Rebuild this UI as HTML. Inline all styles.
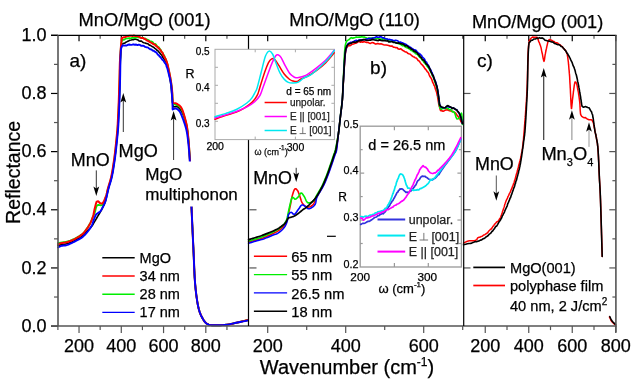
<!DOCTYPE html>
<html><head><meta charset="utf-8"><style>
html,body{margin:0;padding:0;background:#fff;width:635px;height:384px;overflow:hidden}
svg{display:block;font-family:"Liberation Sans",sans-serif;will-change:transform}
</style></head><body>
<svg width="635" height="384" viewBox="0 0 635 384" font-family="Liberation Sans, sans-serif"><rect x="0" y="0" width="635" height="384" fill="#fff"/>
<line x1="51.00" y1="326.10" x2="58.00" y2="326.10" stroke="#000" stroke-width="1.20"/>
<line x1="54.00" y1="297.02" x2="58.00" y2="297.02" stroke="#555" stroke-width="1.20"/>
<line x1="51.00" y1="267.94" x2="58.00" y2="267.94" stroke="#000" stroke-width="1.20"/>
<line x1="54.00" y1="238.86" x2="58.00" y2="238.86" stroke="#555" stroke-width="1.20"/>
<line x1="51.00" y1="209.78" x2="58.00" y2="209.78" stroke="#000" stroke-width="1.20"/>
<line x1="54.00" y1="180.70" x2="58.00" y2="180.70" stroke="#555" stroke-width="1.20"/>
<line x1="51.00" y1="151.62" x2="58.00" y2="151.62" stroke="#000" stroke-width="1.20"/>
<line x1="54.00" y1="122.54" x2="58.00" y2="122.54" stroke="#555" stroke-width="1.20"/>
<line x1="51.00" y1="93.46" x2="58.00" y2="93.46" stroke="#000" stroke-width="1.20"/>
<line x1="54.00" y1="64.38" x2="58.00" y2="64.38" stroke="#555" stroke-width="1.20"/>
<line x1="51.00" y1="35.30" x2="58.00" y2="35.30" stroke="#000" stroke-width="1.20"/>
<line x1="249.40" y1="267.94" x2="256.50" y2="267.94" stroke="#555" stroke-width="1.20"/>
<line x1="249.40" y1="209.78" x2="256.50" y2="209.78" stroke="#555" stroke-width="1.20"/>
<line x1="463.70" y1="267.94" x2="470.50" y2="267.94" stroke="#555" stroke-width="1.20"/>
<line x1="463.70" y1="209.78" x2="470.50" y2="209.78" stroke="#555" stroke-width="1.20"/>
<line x1="463.70" y1="151.62" x2="470.50" y2="151.62" stroke="#555" stroke-width="1.20"/>
<line x1="463.70" y1="93.46" x2="470.50" y2="93.46" stroke="#555" stroke-width="1.20"/>
<line x1="612.40" y1="297.02" x2="615.90" y2="297.02" stroke="#555" stroke-width="1.20"/>
<line x1="609.30" y1="267.94" x2="615.90" y2="267.94" stroke="#555" stroke-width="1.20"/>
<line x1="612.40" y1="238.86" x2="615.90" y2="238.86" stroke="#555" stroke-width="1.20"/>
<line x1="609.30" y1="209.78" x2="615.90" y2="209.78" stroke="#555" stroke-width="1.20"/>
<line x1="612.40" y1="180.70" x2="615.90" y2="180.70" stroke="#555" stroke-width="1.20"/>
<line x1="609.30" y1="151.62" x2="615.90" y2="151.62" stroke="#555" stroke-width="1.20"/>
<line x1="612.40" y1="122.54" x2="615.90" y2="122.54" stroke="#555" stroke-width="1.20"/>
<line x1="609.30" y1="93.46" x2="615.90" y2="93.46" stroke="#555" stroke-width="1.20"/>
<line x1="612.40" y1="64.38" x2="615.90" y2="64.38" stroke="#555" stroke-width="1.20"/>
<line x1="57.90" y1="326.10" x2="57.90" y2="330.10" stroke="#555" stroke-width="1.20"/>
<line x1="79.03" y1="326.10" x2="79.03" y2="333.10" stroke="#555" stroke-width="1.20"/>
<line x1="100.16" y1="326.10" x2="100.16" y2="330.10" stroke="#555" stroke-width="1.20"/>
<line x1="121.29" y1="326.10" x2="121.29" y2="333.10" stroke="#555" stroke-width="1.20"/>
<line x1="142.42" y1="326.10" x2="142.42" y2="330.10" stroke="#555" stroke-width="1.20"/>
<line x1="163.55" y1="326.10" x2="163.55" y2="333.10" stroke="#555" stroke-width="1.20"/>
<line x1="184.68" y1="326.10" x2="184.68" y2="330.10" stroke="#555" stroke-width="1.20"/>
<line x1="205.81" y1="326.10" x2="205.81" y2="333.10" stroke="#555" stroke-width="1.20"/>
<line x1="226.94" y1="326.10" x2="226.94" y2="330.10" stroke="#555" stroke-width="1.20"/>
<line x1="267.70" y1="326.10" x2="267.70" y2="333.10" stroke="#555" stroke-width="1.20"/>
<line x1="306.70" y1="326.10" x2="306.70" y2="330.10" stroke="#555" stroke-width="1.20"/>
<line x1="345.70" y1="326.10" x2="345.70" y2="333.10" stroke="#555" stroke-width="1.20"/>
<line x1="384.70" y1="326.10" x2="384.70" y2="330.10" stroke="#555" stroke-width="1.20"/>
<line x1="423.70" y1="326.10" x2="423.70" y2="333.10" stroke="#555" stroke-width="1.20"/>
<line x1="462.70" y1="326.10" x2="462.70" y2="330.10" stroke="#555" stroke-width="1.20"/>
<line x1="485.25" y1="326.10" x2="485.25" y2="333.10" stroke="#555" stroke-width="1.20"/>
<line x1="507.00" y1="326.10" x2="507.00" y2="330.10" stroke="#555" stroke-width="1.20"/>
<line x1="528.75" y1="326.10" x2="528.75" y2="333.10" stroke="#555" stroke-width="1.20"/>
<line x1="550.50" y1="326.10" x2="550.50" y2="330.10" stroke="#555" stroke-width="1.20"/>
<line x1="572.25" y1="326.10" x2="572.25" y2="333.10" stroke="#555" stroke-width="1.20"/>
<line x1="594.00" y1="326.10" x2="594.00" y2="330.10" stroke="#555" stroke-width="1.20"/>
<line x1="615.75" y1="326.10" x2="615.75" y2="333.10" stroke="#555" stroke-width="1.20"/>
<line x1="79.03" y1="35.30" x2="79.03" y2="41.30" stroke="#000" stroke-width="1.20"/>
<line x1="100.16" y1="35.30" x2="100.16" y2="38.80" stroke="#555" stroke-width="1.20"/>
<line x1="121.29" y1="35.30" x2="121.29" y2="41.30" stroke="#000" stroke-width="1.20"/>
<line x1="142.42" y1="35.30" x2="142.42" y2="38.80" stroke="#555" stroke-width="1.20"/>
<line x1="163.55" y1="35.30" x2="163.55" y2="41.30" stroke="#000" stroke-width="1.20"/>
<line x1="184.68" y1="35.30" x2="184.68" y2="38.80" stroke="#555" stroke-width="1.20"/>
<line x1="205.81" y1="35.30" x2="205.81" y2="41.30" stroke="#000" stroke-width="1.20"/>
<line x1="226.94" y1="35.30" x2="226.94" y2="38.80" stroke="#555" stroke-width="1.20"/>
<line x1="267.70" y1="35.30" x2="267.70" y2="41.30" stroke="#000" stroke-width="1.20"/>
<line x1="306.70" y1="35.30" x2="306.70" y2="38.80" stroke="#555" stroke-width="1.20"/>
<line x1="345.70" y1="35.30" x2="345.70" y2="41.30" stroke="#000" stroke-width="1.20"/>
<line x1="384.70" y1="35.30" x2="384.70" y2="38.80" stroke="#555" stroke-width="1.20"/>
<line x1="423.70" y1="35.30" x2="423.70" y2="41.30" stroke="#000" stroke-width="1.20"/>
<line x1="462.70" y1="35.30" x2="462.70" y2="38.80" stroke="#555" stroke-width="1.20"/>
<line x1="485.25" y1="35.30" x2="485.25" y2="41.30" stroke="#000" stroke-width="1.20"/>
<line x1="507.00" y1="35.30" x2="507.00" y2="38.80" stroke="#555" stroke-width="1.20"/>
<line x1="528.75" y1="35.30" x2="528.75" y2="41.30" stroke="#000" stroke-width="1.20"/>
<line x1="550.50" y1="35.30" x2="550.50" y2="38.80" stroke="#555" stroke-width="1.20"/>
<line x1="572.25" y1="35.30" x2="572.25" y2="41.30" stroke="#000" stroke-width="1.20"/>
<line x1="594.00" y1="35.30" x2="594.00" y2="38.80" stroke="#555" stroke-width="1.20"/>
<line x1="615.75" y1="35.30" x2="615.75" y2="41.30" stroke="#000" stroke-width="1.20"/>
<path d="M58.00,245.50 L59.11,245.23 L60.68,244.85 L62.25,244.50 L63.60,244.29 L64.94,244.10 L66.40,243.80 L67.63,243.45 L68.93,243.03 L70.28,242.54 L71.60,242.00 L72.90,241.40 L74.20,240.73 L75.50,240.02 L76.80,239.30 L77.84,238.74 L78.88,238.19 L79.92,237.61 L80.96,236.96 L82.00,236.20 L82.88,235.45 L83.78,234.60 L84.68,233.69 L85.57,232.76 L86.43,231.85 L87.25,231.00 L88.19,230.05 L89.09,229.14 L89.95,228.25 L90.76,227.38 L91.50,226.50 L92.28,225.46 L92.93,224.47 L93.56,223.42 L94.30,222.20 L94.89,221.21 L95.55,220.10 L96.23,218.92 L96.91,217.75 L97.54,216.65 L98.10,215.70 L98.98,214.26 L99.69,213.12 L100.40,211.90 L100.97,210.88 L101.54,209.83 L102.13,208.70 L102.75,207.40 L103.20,206.48 L103.66,205.54 L104.15,204.54 L104.64,203.43 L105.12,202.17 L105.60,200.70 L105.88,199.70 L106.15,198.59 L106.42,197.41 L106.69,196.17 L106.97,194.88 L107.24,193.57 L107.52,192.24 L107.80,190.93 L108.10,189.64 L108.40,188.40 L108.72,187.20 L109.05,186.04 L109.40,184.89 L109.76,183.75 L110.11,182.60 L110.47,181.44 L110.82,180.25 L111.16,179.02 L111.49,177.74 L111.80,176.40 L112.03,175.32 L112.25,174.19 L112.47,173.03 L112.69,171.83 L112.90,170.61 L113.11,169.38 L113.31,168.13 L113.50,166.89 L113.69,165.65 L113.88,164.43 L114.06,163.22 L114.23,162.04 L114.40,160.90 L114.59,159.60 L114.76,158.35 L114.93,157.13 L115.08,155.93 L115.23,154.75 L115.38,153.56 L115.52,152.36 L115.66,151.14 L115.80,149.88 L115.95,148.57 L116.10,147.20 L116.22,146.07 L116.35,144.88 L116.48,143.65 L116.61,142.39 L116.75,141.10 L116.88,139.80 L117.01,138.49 L117.14,137.19 L117.27,135.90 L117.39,134.64 L117.50,133.40 L117.61,132.21 L117.71,131.08 L117.80,130.00 L117.91,128.62 L118.00,127.36 L118.08,126.21 L118.15,125.11 L118.21,124.05 L118.26,122.98 L118.31,121.88 L118.37,120.70 L118.43,119.42 L118.50,118.00 L118.55,116.98 L118.60,115.92 L118.66,114.82 L118.71,113.68 L118.77,112.52 L118.82,111.33 L118.88,110.11 L118.93,108.88 L118.99,107.63 L119.04,106.37 L119.10,105.10 L119.15,103.82 L119.20,102.55 L119.25,101.27 L119.30,100.00 L119.34,98.80 L119.39,97.60 L119.43,96.37 L119.47,95.14 L119.51,93.90 L119.54,92.65 L119.58,91.39 L119.62,90.12 L119.66,88.86 L119.69,87.59 L119.73,86.32 L119.76,85.05 L119.80,83.78 L119.83,82.51 L119.87,81.25 L119.90,80.00 L119.93,78.74 L119.96,77.46 L119.99,76.16 L120.02,74.86 L120.04,73.55 L120.07,72.24 L120.09,70.93 L120.12,69.62 L120.15,68.33 L120.17,67.06 L120.20,65.81 L120.24,64.58 L120.27,63.38 L120.31,62.21 L120.35,61.09 L120.40,60.00 L120.48,58.46 L120.56,56.93 L120.65,55.43 L120.74,53.98 L120.84,52.57 L120.94,51.23 L121.05,49.98 L121.15,48.81 L121.27,47.75 L121.38,46.81 L121.50,46.00 L121.67,44.24 L123.00,43.66 L123.79,43.33 L124.79,43.15 L125.95,42.17 L127.22,41.61 L128.55,41.09 L129.89,40.19 L131.17,40.01 L132.36,39.75 L133.40,39.66 L134.99,38.97 L136.38,39.42 L137.64,39.69 L138.83,40.85 L140.00,41.17 L141.40,41.02 L142.68,42.30 L143.93,42.77 L145.20,43.04 L146.24,43.50 L147.26,43.62 L148.30,44.07 L149.37,45.15 L150.50,45.40 L151.52,46.11 L152.60,46.78 L153.71,47.24 L154.82,48.32 L155.90,49.05 L156.90,50.21 L157.84,50.78 L158.73,51.82 L159.58,52.67 L160.41,53.83 L161.21,54.69 L162.00,55.60 L162.78,57.32 L163.54,58.40 L164.28,59.37 L164.99,60.41 L165.65,61.30 L166.25,62.56 L166.66,63.69 L167.02,64.63 L167.36,66.44 L167.68,67.34 L167.97,69.00 L168.26,69.96 L168.53,71.23 L168.80,72.50 L169.06,73.77 L169.32,75.06 L169.56,76.36 L169.78,77.67 L170.00,78.99 L170.21,80.32 L170.41,81.66 L170.60,83.00 L170.76,84.22 L170.91,85.47 L171.06,86.74 L171.20,88.02 L171.33,89.29 L171.45,90.54 L171.57,91.75 L171.69,92.91 L171.80,94.00 L171.96,95.54 L172.09,97.00 L172.22,98.38 L172.34,99.67 L172.47,100.88 L172.60,102.00 L172.76,103.57 L172.90,104.98 L173.11,106.13 L173.50,106.90 L174.96,106.79 L176.70,106.40 L177.76,106.99 L178.81,107.91 L179.80,109.00 L180.70,110.12 L181.55,111.39 L182.40,113.00 L182.84,113.98 L183.29,115.07 L183.74,116.25 L184.18,117.48 L184.60,118.74 L185.00,120.00 L185.37,121.22 L185.73,122.41 L186.07,123.62 L186.39,124.93 L186.70,126.37 L187.00,128.00 L187.17,129.09 L187.34,130.25 L187.50,131.47 L187.66,132.74 L187.81,134.06 L187.95,135.42 L188.10,136.80 L188.23,138.19 L188.37,139.60 L188.50,141.00 L188.61,142.18 L188.71,143.38 L188.81,144.61 L188.91,145.85 L189.01,147.11 L189.10,148.38 L189.19,149.65 L189.28,150.93 L189.36,152.20 L189.44,153.48 L189.52,154.74 L189.60,156.00 L189.67,157.23 L189.74,158.44 L189.80,159.63 L189.86,160.81 L189.92,162.00 L189.97,163.19 L190.03,164.40 L190.08,165.63 L190.13,166.90 L190.19,168.21 L190.24,169.57 L190.30,171.00 L190.34,172.12 L190.39,173.29 L190.43,174.50 L190.48,175.74 L190.53,177.02 L190.57,178.31 L190.62,179.62 L190.66,180.94 L190.71,182.26 L190.75,183.57 L190.80,184.88 L190.84,186.16 L190.88,187.43 L190.92,188.66 L190.96,189.85 L191.00,191.00 L191.04,192.29 L191.07,193.40 L191.10,194.40 L191.12,195.31 L191.14,196.18 L191.16,197.06 L191.18,197.98 L191.21,199.00 L191.24,200.16 L191.29,201.49 L191.34,203.05 L191.41,204.87 L191.50,207.00 L191.54,207.86 L191.57,208.76 L191.62,209.71 L191.66,210.70 L191.70,211.73 L191.75,212.81 L191.80,213.92 L191.85,215.06 L191.90,216.23 L191.96,217.43 L192.01,218.66 L192.07,219.91 L192.12,221.18 L192.18,222.48 L192.24,223.79 L192.30,225.11 L192.36,226.44 L192.43,227.79 L192.49,229.14 L192.55,230.49 L192.61,231.85 L192.67,233.21 L192.74,234.56 L192.80,235.91 L192.86,237.25 L192.92,238.58 L192.99,239.90 L193.05,241.20 L193.11,242.49 L193.17,243.76 L193.23,245.00 L193.28,246.22 L193.34,247.41 L193.39,248.57 L193.45,249.70 L193.50,250.80 L193.56,252.18 L193.63,253.55 L193.69,254.90 L193.74,256.24 L193.80,257.57 L193.85,258.89 L193.91,260.19 L193.96,261.48 L194.01,262.76 L194.06,264.02 L194.11,265.28 L194.16,266.52 L194.21,267.74 L194.26,268.96 L194.31,270.16 L194.37,271.35 L194.42,272.52 L194.48,273.68 L194.54,274.83 L194.60,275.97 L194.66,277.09 L194.73,278.21 L194.80,279.30 L194.87,280.39 L194.95,281.46 L195.03,282.52 L195.11,283.57 L195.20,284.60 L195.34,286.10 L195.48,287.58 L195.62,289.03 L195.77,290.46 L195.93,291.86 L196.09,293.23 L196.25,294.58 L196.42,295.90 L196.60,297.19 L196.78,298.44 L196.96,299.67 L197.15,300.87 L197.34,302.03 L197.54,303.16 L197.74,304.26 L197.95,305.32 L198.16,306.35 L198.38,307.34 L198.60,308.30 L199.04,310.00 L199.51,311.56 L200.01,312.97 L200.52,314.27 L201.04,315.46 L201.58,316.55 L202.12,317.55 L202.65,318.49 L203.18,319.37 L203.70,320.20 L204.67,321.62 L205.58,322.68 L206.52,323.47 L207.57,324.08 L208.80,324.60 L209.81,324.91 L210.91,325.11 L212.07,325.23 L213.30,325.29 L214.57,325.31 L215.88,325.31 L217.20,325.30 L218.39,325.29 L219.63,325.26 L220.90,325.20 L222.19,325.12 L223.50,325.03 L224.81,324.91 L226.12,324.76 L227.40,324.60 L228.66,324.41 L229.92,324.18 L231.18,323.93 L232.43,323.66 L233.69,323.38 L234.95,323.09 L236.22,322.79 L237.50,322.50 L238.87,322.19 L240.34,321.84 L241.87,321.48 L243.38,321.12 L244.81,320.77 L246.10,320.46 L247.19,320.20 L248.00,320.00" fill="none" stroke="#000000" stroke-width="1.60" stroke-linejoin="round" stroke-linecap="round" />
<path d="M58.00,243.10 L59.11,242.89 L60.68,242.58 L62.25,242.30 L63.60,242.13 L64.94,241.97 L66.40,241.70 L67.63,241.37 L68.93,240.97 L70.28,240.51 L71.60,240.00 L72.90,239.45 L74.20,238.85 L75.50,238.20 L76.80,237.50 L77.88,236.88 L78.99,236.22 L80.09,235.53 L81.11,234.85 L82.00,234.20 L83.07,233.36 L83.89,232.56 L84.90,231.30 L85.49,230.52 L86.15,229.61 L86.86,228.60 L87.59,227.54 L88.31,226.44 L88.99,225.35 L89.60,224.30 L90.25,223.07 L90.86,221.79 L91.42,220.50 L91.96,219.24 L92.45,218.06 L92.90,217.00 L93.46,215.72 L93.91,214.68 L94.33,213.66 L94.80,212.40 L95.14,211.29 L95.48,209.99 L95.83,208.61 L96.21,207.30 L96.63,206.19 L97.10,205.40 L98.33,204.90 L99.72,205.18 L100.90,205.40 L102.75,204.90 L103.33,203.78 L103.89,202.23 L104.50,200.50 L104.91,199.40 L105.34,198.22 L105.79,196.98 L106.21,195.73 L106.60,194.50 L106.91,193.38 L107.15,192.35 L107.39,191.27 L107.69,190.00 L108.10,188.40 L108.37,187.45 L108.67,186.43 L109.01,185.34 L109.36,184.19 L109.73,182.99 L110.11,181.74 L110.48,180.44 L110.84,179.12 L111.18,177.77 L111.50,176.40 L111.73,175.32 L111.95,174.19 L112.17,173.03 L112.39,171.83 L112.60,170.61 L112.81,169.38 L113.01,168.13 L113.20,166.89 L113.39,165.65 L113.58,164.43 L113.76,163.22 L113.93,162.04 L114.10,160.90 L114.29,159.60 L114.46,158.35 L114.63,157.13 L114.78,155.93 L114.93,154.75 L115.08,153.56 L115.22,152.36 L115.36,151.14 L115.50,149.88 L115.65,148.57 L115.80,147.20 L115.92,146.07 L116.05,144.88 L116.18,143.65 L116.31,142.39 L116.45,141.10 L116.58,139.80 L116.71,138.49 L116.84,137.19 L116.97,135.90 L117.09,134.64 L117.20,133.40 L117.31,132.21 L117.41,131.08 L117.50,130.00 L117.61,128.62 L117.70,127.36 L117.78,126.21 L117.85,125.11 L117.91,124.05 L117.96,122.98 L118.01,121.88 L118.07,120.70 L118.13,119.42 L118.20,118.00 L118.25,116.98 L118.30,115.92 L118.36,114.82 L118.41,113.68 L118.47,112.52 L118.52,111.33 L118.58,110.11 L118.63,108.88 L118.69,107.63 L118.74,106.37 L118.80,105.10 L118.85,103.82 L118.90,102.55 L118.95,101.27 L119.00,100.00 L119.04,98.80 L119.08,97.60 L119.12,96.37 L119.16,95.14 L119.20,93.90 L119.24,92.65 L119.28,91.39 L119.31,90.12 L119.35,88.86 L119.38,87.59 L119.42,86.32 L119.45,85.05 L119.49,83.78 L119.53,82.51 L119.56,81.25 L119.60,80.00 L119.64,78.75 L119.67,77.49 L119.70,76.22 L119.73,74.95 L119.76,73.68 L119.79,72.41 L119.82,71.14 L119.86,69.88 L119.89,68.61 L119.92,67.35 L119.96,66.10 L120.00,64.86 L120.04,63.63 L120.09,62.40 L120.14,61.20 L120.20,60.00 L120.26,58.71 L120.33,57.38 L120.39,56.02 L120.46,54.65 L120.53,53.28 L120.60,51.91 L120.67,50.57 L120.75,49.26 L120.84,47.99 L120.93,46.78 L121.03,45.64 L121.13,44.58 L121.25,43.61 L121.37,42.75 L121.50,42.00 L122.14,39.97 L122.95,39.84 L124.30,39.65 L125.30,38.83 L126.49,38.38 L127.82,38.39 L129.23,38.02 L130.64,38.27 L132.00,37.97 L133.35,37.75 L134.75,37.62 L136.16,37.66 L137.53,37.19 L138.83,37.48 L140.00,37.30 L141.49,38.14 L142.77,37.63 L143.96,38.66 L145.20,38.42 L146.49,39.46 L147.78,39.71 L149.10,40.43 L150.50,41.61 L151.52,41.45 L152.60,42.12 L153.71,43.57 L154.82,43.94 L155.90,44.36 L156.90,46.04 L157.84,46.95 L158.73,47.22 L159.58,48.58 L160.41,49.46 L161.21,50.81 L162.00,52.31 L162.67,52.98 L163.33,54.58 L163.97,55.16 L164.59,56.46 L165.18,58.26 L165.74,59.14 L166.25,60.43 L166.65,61.72 L167.02,62.76 L167.35,63.84 L167.65,64.71 L167.94,66.55 L168.23,67.59 L168.51,68.88 L168.80,70.20 L169.04,71.30 L169.28,72.45 L169.52,73.63 L169.75,74.83 L169.98,76.05 L170.21,77.27 L170.42,78.49 L170.63,79.69 L170.82,80.86 L171.00,82.00 L171.20,83.37 L171.38,84.72 L171.55,86.03 L171.70,87.33 L171.84,88.62 L171.97,89.91 L172.09,91.20 L172.20,92.50 L172.30,93.88 L172.39,95.35 L172.46,96.85 L172.53,98.34 L172.59,99.76 L172.66,101.04 L172.72,102.14 L172.80,103.00 L173.50,104.00 L175.60,104.50 L176.90,105.06 L178.44,105.83 L179.80,106.80 L180.56,107.63 L181.20,108.54 L181.79,109.64 L182.40,111.00 L182.78,111.94 L183.16,113.01 L183.55,114.16 L183.93,115.37 L184.30,116.60 L184.66,117.82 L185.00,119.00 L185.37,120.28 L185.73,121.48 L186.07,122.69 L186.39,123.96 L186.70,125.38 L187.00,127.00 L187.17,128.09 L187.34,129.25 L187.50,130.47 L187.66,131.74 L187.81,133.06 L187.95,134.42 L188.10,135.80 L188.23,137.19 L188.37,138.60 L188.50,140.00 L188.61,141.18 L188.71,142.38 L188.81,143.61 L188.91,144.85 L189.01,146.11 L189.10,147.38 L189.19,148.65 L189.28,149.93 L189.36,151.20 L189.44,152.48 L189.52,153.74 L189.60,155.00 L189.67,156.23 L189.74,157.44 L189.80,158.63 L189.86,159.81 L189.92,161.00 L189.97,162.19 L190.03,163.40 L190.08,164.63 L190.13,165.90 L190.19,167.21 L190.24,168.57 L190.30,170.00 L190.34,171.12 L190.39,172.28 L190.43,173.48 L190.48,174.72 L190.53,175.98 L190.57,177.27 L190.62,178.57 L190.66,179.88 L190.71,181.19 L190.75,182.50 L190.80,183.80 L190.84,185.09 L190.88,186.36 L190.92,187.61 L190.96,188.82 L191.00,190.00 L191.04,191.24 L191.07,192.35 L191.09,193.36 L191.11,194.29 L191.13,195.19 L191.15,196.09 L191.17,197.01 L191.19,198.00 L191.22,199.07 L191.25,200.28 L191.30,201.64 L191.35,203.19 L191.42,204.97 L191.50,207.00 L191.54,207.87 L191.57,208.78 L191.62,209.74 L191.66,210.75 L191.70,211.79 L191.75,212.86 L191.80,213.98 L191.85,215.12 L191.90,216.30 L191.96,217.50 L192.01,218.73 L192.07,219.99 L192.12,221.26 L192.18,222.55 L192.24,223.86 L192.30,225.18 L192.36,226.51 L192.43,227.85 L192.49,229.20 L192.55,230.55 L192.61,231.90 L192.67,233.25 L192.74,234.60 L192.80,235.95 L192.86,237.28 L192.92,238.61 L192.99,239.93 L193.05,241.22 L193.11,242.51 L193.17,243.77 L193.23,245.01 L193.28,246.23 L193.34,247.41 L193.39,248.58 L193.45,249.70 L193.50,250.80 L193.56,252.18 L193.63,253.55 L193.69,254.90 L193.74,256.24 L193.80,257.57 L193.85,258.89 L193.91,260.19 L193.96,261.48 L194.01,262.76 L194.06,264.02 L194.11,265.28 L194.16,266.52 L194.21,267.74 L194.26,268.96 L194.31,270.16 L194.37,271.35 L194.42,272.52 L194.48,273.68 L194.54,274.83 L194.60,275.97 L194.66,277.09 L194.73,278.21 L194.80,279.30 L194.87,280.39 L194.95,281.46 L195.03,282.52 L195.11,283.57 L195.20,284.60 L195.34,286.10 L195.48,287.58 L195.62,289.03 L195.77,290.46 L195.93,291.86 L196.09,293.23 L196.25,294.58 L196.42,295.90 L196.60,297.19 L196.78,298.44 L196.96,299.67 L197.15,300.87 L197.34,302.03 L197.54,303.16 L197.74,304.26 L197.95,305.32 L198.16,306.35 L198.38,307.34 L198.60,308.30 L199.04,310.00 L199.51,311.56 L200.01,312.97 L200.52,314.27 L201.04,315.46 L201.58,316.55 L202.12,317.55 L202.65,318.49 L203.18,319.37 L203.70,320.20 L204.67,321.62 L205.58,322.68 L206.52,323.47 L207.57,324.08 L208.80,324.60 L209.81,324.91 L210.91,325.11 L212.07,325.23 L213.30,325.29 L214.57,325.31 L215.88,325.31 L217.20,325.30 L218.39,325.29 L219.63,325.26 L220.90,325.20 L222.19,325.12 L223.50,325.03 L224.81,324.91 L226.12,324.76 L227.40,324.60 L228.66,324.41 L229.92,324.18 L231.18,323.93 L232.43,323.66 L233.69,323.38 L234.95,323.09 L236.22,322.79 L237.50,322.50 L238.87,322.19 L240.34,321.84 L241.87,321.48 L243.38,321.12 L244.81,320.77 L246.10,320.46 L247.19,320.20 L248.00,320.00" fill="none" stroke="#00ee00" stroke-width="1.80" stroke-linejoin="round" stroke-linecap="round" />
<path d="M58.00,244.20 L59.11,243.84 L60.68,243.33 L62.25,242.90 L63.60,242.69 L64.94,242.56 L66.40,242.30 L67.63,241.95 L68.93,241.53 L70.28,241.03 L71.60,240.50 L72.90,239.93 L74.20,239.30 L75.50,238.62 L76.80,237.90 L77.88,237.26 L78.99,236.58 L80.09,235.87 L81.11,235.17 L82.00,234.50 L83.07,233.62 L83.89,232.78 L84.90,231.50 L85.49,230.72 L86.15,229.82 L86.86,228.83 L87.59,227.77 L88.31,226.68 L88.99,225.58 L89.60,224.50 L90.16,223.42 L90.69,222.32 L91.19,221.20 L91.66,220.07 L92.10,218.92 L92.51,217.76 L92.90,216.60 L93.25,215.41 L93.55,214.18 L93.81,212.94 L94.06,211.70 L94.30,210.48 L94.54,209.31 L94.80,208.20 L95.18,206.67 L95.56,205.13 L95.94,203.71 L96.31,202.49 L96.65,201.60 L98.10,201.20 L98.94,202.04 L99.90,203.00 L101.10,203.54 L102.30,203.50 L103.23,202.52 L104.15,200.70 L104.60,199.68 L105.10,198.46 L105.60,197.14 L106.08,195.79 L106.50,194.50 L106.81,193.37 L107.03,192.34 L107.24,191.26 L107.51,190.00 L107.90,188.40 L108.16,187.45 L108.46,186.43 L108.80,185.34 L109.15,184.19 L109.52,182.99 L109.90,181.74 L110.28,180.44 L110.64,179.12 L110.98,177.77 L111.30,176.40 L111.53,175.32 L111.75,174.19 L111.97,173.03 L112.19,171.83 L112.40,170.61 L112.61,169.38 L112.81,168.13 L113.00,166.89 L113.19,165.65 L113.38,164.43 L113.56,163.22 L113.73,162.04 L113.90,160.90 L114.09,159.60 L114.26,158.35 L114.43,157.13 L114.58,155.93 L114.73,154.75 L114.88,153.56 L115.02,152.36 L115.16,151.14 L115.30,149.88 L115.45,148.57 L115.60,147.20 L115.72,146.07 L115.85,144.88 L115.98,143.65 L116.11,142.39 L116.25,141.10 L116.38,139.80 L116.51,138.49 L116.64,137.19 L116.77,135.90 L116.89,134.64 L117.00,133.40 L117.11,132.21 L117.21,131.08 L117.30,130.00 L117.41,128.62 L117.50,127.36 L117.58,126.21 L117.65,125.11 L117.71,124.05 L117.76,122.98 L117.81,121.88 L117.87,120.70 L117.93,119.42 L118.00,118.00 L118.05,116.98 L118.10,115.92 L118.16,114.82 L118.21,113.68 L118.27,112.52 L118.32,111.33 L118.38,110.11 L118.43,108.88 L118.49,107.63 L118.54,106.37 L118.60,105.10 L118.65,103.82 L118.70,102.55 L118.75,101.27 L118.80,100.00 L118.84,98.80 L118.88,97.60 L118.92,96.37 L118.96,95.14 L119.00,93.90 L119.04,92.65 L119.08,91.39 L119.11,90.12 L119.15,88.86 L119.18,87.59 L119.22,86.32 L119.25,85.05 L119.29,83.78 L119.33,82.51 L119.36,81.25 L119.40,80.00 L119.44,78.75 L119.47,77.49 L119.50,76.24 L119.53,74.98 L119.56,73.72 L119.59,72.46 L119.61,71.20 L119.64,69.94 L119.68,68.68 L119.71,67.43 L119.75,66.18 L119.79,64.93 L119.83,63.69 L119.88,62.45 L119.94,61.22 L120.00,60.00 L120.07,58.67 L120.15,57.30 L120.24,55.89 L120.34,54.46 L120.43,53.02 L120.54,51.58 L120.64,50.17 L120.75,48.78 L120.86,47.44 L120.97,46.15 L121.08,44.93 L121.19,43.79 L121.29,42.75 L121.40,41.81 L121.50,41.00 L121.76,38.61 L122.02,37.73 L123.00,37.67 L123.97,37.26 L125.22,37.06 L126.66,36.16 L128.17,35.96 L129.65,35.70 L131.00,35.65 L132.46,36.05 L133.86,35.54 L135.23,36.02 L136.60,35.94 L138.00,36.32 L139.21,36.79 L140.46,37.61 L141.71,37.92 L142.93,37.93 L144.11,38.71 L145.20,39.08 L146.63,40.36 L147.90,40.89 L149.14,41.51 L150.50,42.29 L151.52,42.83 L152.60,43.67 L153.71,44.25 L154.82,44.52 L155.90,45.86 L156.90,46.39 L157.84,47.53 L158.73,48.29 L159.58,49.16 L160.41,50.14 L161.21,51.29 L162.00,52.33 L162.67,53.19 L163.33,54.89 L163.97,55.99 L164.59,57.30 L165.18,58.22 L165.74,59.31 L166.25,60.72 L166.65,61.27 L167.02,62.88 L167.35,63.81 L167.65,64.73 L167.94,65.95 L168.23,67.44 L168.51,68.70 L168.80,70.00 L169.07,71.20 L169.33,72.46 L169.60,73.76 L169.86,75.08 L170.11,76.41 L170.35,77.74 L170.59,79.06 L170.80,80.35 L171.00,81.60 L171.20,82.96 L171.38,84.28 L171.55,85.57 L171.70,86.86 L171.84,88.13 L171.97,89.41 L172.09,90.69 L172.20,92.00 L172.30,93.39 L172.39,94.90 L172.46,96.45 L172.53,97.98 L172.59,99.44 L172.66,100.75 L172.72,101.86 L172.80,102.70 L173.50,103.00 L175.60,103.20 L176.54,103.64 L177.67,104.25 L178.81,104.98 L179.80,105.80 L180.56,106.64 L181.20,107.54 L181.79,108.62 L182.40,110.00 L182.78,110.97 L183.16,112.06 L183.55,113.25 L183.93,114.50 L184.30,115.78 L184.66,117.06 L185.00,118.30 L185.32,119.48 L185.63,120.63 L185.93,121.77 L186.21,122.95 L186.48,124.19 L186.75,125.53 L187.00,127.00 L187.17,128.12 L187.34,129.29 L187.50,130.52 L187.66,131.79 L187.81,133.11 L187.95,134.45 L188.10,135.82 L188.23,137.20 L188.37,138.60 L188.50,140.00 L188.61,141.18 L188.71,142.38 L188.81,143.61 L188.91,144.85 L189.01,146.11 L189.10,147.38 L189.19,148.65 L189.28,149.93 L189.36,151.20 L189.44,152.48 L189.52,153.74 L189.60,155.00 L189.67,156.23 L189.74,157.44 L189.80,158.63 L189.86,159.81 L189.92,161.00 L189.97,162.19 L190.03,163.40 L190.08,164.63 L190.13,165.90 L190.19,167.21 L190.24,168.57 L190.30,170.00 L190.34,171.12 L190.39,172.28 L190.43,173.48 L190.48,174.72 L190.53,175.98 L190.57,177.27 L190.62,178.57 L190.66,179.88 L190.71,181.19 L190.75,182.50 L190.80,183.80 L190.84,185.09 L190.88,186.36 L190.92,187.61 L190.96,188.82 L191.00,190.00 L191.04,191.24 L191.07,192.35 L191.09,193.36 L191.11,194.29 L191.13,195.19 L191.15,196.09 L191.17,197.01 L191.19,198.00 L191.22,199.07 L191.25,200.28 L191.30,201.64 L191.35,203.19 L191.42,204.97 L191.50,207.00 L191.54,207.87 L191.57,208.78 L191.62,209.74 L191.66,210.75 L191.70,211.79 L191.75,212.86 L191.80,213.98 L191.85,215.12 L191.90,216.30 L191.96,217.50 L192.01,218.73 L192.07,219.99 L192.12,221.26 L192.18,222.55 L192.24,223.86 L192.30,225.18 L192.36,226.51 L192.43,227.85 L192.49,229.20 L192.55,230.55 L192.61,231.90 L192.67,233.25 L192.74,234.60 L192.80,235.95 L192.86,237.28 L192.92,238.61 L192.99,239.93 L193.05,241.22 L193.11,242.51 L193.17,243.77 L193.23,245.01 L193.28,246.23 L193.34,247.41 L193.39,248.58 L193.45,249.70 L193.50,250.80 L193.56,252.18 L193.63,253.55 L193.69,254.90 L193.74,256.24 L193.80,257.57 L193.85,258.89 L193.91,260.19 L193.96,261.48 L194.01,262.76 L194.06,264.02 L194.11,265.28 L194.16,266.52 L194.21,267.74 L194.26,268.96 L194.31,270.16 L194.37,271.35 L194.42,272.52 L194.48,273.68 L194.54,274.83 L194.60,275.97 L194.66,277.09 L194.73,278.21 L194.80,279.30 L194.87,280.39 L194.95,281.46 L195.03,282.52 L195.11,283.57 L195.20,284.60 L195.34,286.10 L195.48,287.58 L195.62,289.03 L195.77,290.46 L195.93,291.86 L196.09,293.23 L196.25,294.58 L196.42,295.90 L196.60,297.19 L196.78,298.44 L196.96,299.67 L197.15,300.87 L197.34,302.03 L197.54,303.16 L197.74,304.26 L197.95,305.32 L198.16,306.35 L198.38,307.34 L198.60,308.30 L199.04,310.00 L199.51,311.56 L200.01,312.97 L200.52,314.27 L201.04,315.46 L201.58,316.55 L202.12,317.55 L202.65,318.49 L203.18,319.37 L203.70,320.20 L204.67,321.62 L205.58,322.68 L206.52,323.47 L207.57,324.08 L208.80,324.60 L209.81,324.91 L210.91,325.11 L212.07,325.23 L213.30,325.29 L214.57,325.31 L215.88,325.31 L217.20,325.30 L218.39,325.29 L219.63,325.26 L220.90,325.20 L222.19,325.12 L223.50,325.03 L224.81,324.91 L226.12,324.76 L227.40,324.60 L228.66,324.41 L229.92,324.18 L231.18,323.93 L232.43,323.66 L233.69,323.38 L234.95,323.09 L236.22,322.79 L237.50,322.50 L238.87,322.19 L240.34,321.84 L241.87,321.48 L243.38,321.12 L244.81,320.77 L246.10,320.46 L247.19,320.20 L248.00,320.00" fill="none" stroke="#ff0000" stroke-width="2.00" stroke-linejoin="round" stroke-linecap="round" />
<path d="M58.00,247.30 L59.11,246.84 L60.68,246.21 L62.25,245.70 L63.60,245.51 L64.94,245.44 L66.40,245.20 L67.63,244.80 L68.93,244.28 L70.28,243.70 L71.60,243.10 L72.90,242.50 L74.20,241.86 L75.50,241.20 L76.80,240.50 L77.84,239.95 L78.88,239.40 L79.92,238.82 L80.96,238.16 L82.00,237.40 L82.88,236.67 L83.78,235.86 L84.68,234.99 L85.57,234.09 L86.43,233.15 L87.25,232.20 L88.03,231.24 L88.79,230.26 L89.53,229.24 L90.23,228.20 L90.89,227.12 L91.50,226.00 L92.06,224.79 L92.57,223.47 L93.05,222.12 L93.49,220.80 L93.90,219.57 L94.30,218.50 L95.00,216.75 L95.60,215.37 L96.20,214.30 L98.10,212.90 L99.90,211.90 L100.54,211.04 L101.26,209.92 L102.01,208.63 L102.75,207.25 L103.32,206.15 L103.88,205.04 L104.45,203.83 L105.02,202.41 L105.60,200.70 L105.89,199.70 L106.18,198.60 L106.48,197.42 L106.77,196.18 L107.07,194.89 L107.36,193.57 L107.67,192.25 L107.97,190.93 L108.28,189.64 L108.60,188.40 L108.93,187.20 L109.27,186.04 L109.62,184.89 L109.97,183.75 L110.33,182.60 L110.68,181.44 L111.03,180.25 L111.36,179.02 L111.69,177.74 L112.00,176.40 L112.23,175.32 L112.45,174.19 L112.67,173.03 L112.89,171.83 L113.10,170.61 L113.31,169.38 L113.51,168.13 L113.70,166.89 L113.89,165.65 L114.08,164.43 L114.26,163.22 L114.43,162.04 L114.60,160.90 L114.79,159.60 L114.96,158.35 L115.13,157.13 L115.28,155.93 L115.43,154.75 L115.58,153.56 L115.72,152.36 L115.86,151.14 L116.00,149.88 L116.15,148.57 L116.30,147.20 L116.42,146.07 L116.55,144.88 L116.68,143.65 L116.81,142.39 L116.95,141.10 L117.08,139.80 L117.21,138.49 L117.34,137.19 L117.47,135.90 L117.59,134.64 L117.70,133.40 L117.81,132.21 L117.91,131.08 L118.00,130.00 L118.11,128.62 L118.20,127.36 L118.28,126.21 L118.35,125.11 L118.41,124.05 L118.46,122.98 L118.51,121.88 L118.57,120.70 L118.63,119.42 L118.70,118.00 L118.75,116.98 L118.80,115.92 L118.86,114.82 L118.91,113.68 L118.97,112.52 L119.02,111.33 L119.08,110.11 L119.13,108.88 L119.19,107.63 L119.24,106.37 L119.30,105.10 L119.35,103.82 L119.40,102.55 L119.45,101.27 L119.50,100.00 L119.54,98.81 L119.59,97.62 L119.63,96.43 L119.67,95.23 L119.71,94.03 L119.74,92.82 L119.78,91.60 L119.82,90.38 L119.86,89.13 L119.89,87.88 L119.93,86.61 L119.96,85.33 L120.00,84.03 L120.03,82.71 L120.07,81.36 L120.10,80.00 L120.13,78.87 L120.15,77.70 L120.17,76.48 L120.20,75.22 L120.22,73.93 L120.24,72.63 L120.26,71.31 L120.28,69.98 L120.30,68.65 L120.32,67.33 L120.34,66.02 L120.36,64.73 L120.38,63.46 L120.41,62.24 L120.44,61.05 L120.46,59.92 L120.49,58.84 L120.53,57.82 L120.56,56.87 L120.60,56.00 L120.70,53.84 L120.79,52.07 L120.88,50.62 L121.00,49.43 L121.16,48.44 L121.39,47.58 L121.70,46.80 L122.65,45.31 L123.91,45.67 L125.60,45.45 L126.69,45.55 L127.96,44.70 L129.33,44.52 L130.74,44.86 L132.12,44.70 L133.40,44.30 L134.82,44.72 L136.19,44.54 L137.52,45.08 L138.79,44.61 L140.00,44.92 L141.40,45.87 L142.68,45.64 L143.93,45.91 L145.20,46.90 L146.49,47.26 L147.78,47.37 L149.10,48.46 L150.50,49.36 L151.52,49.46 L152.60,50.58 L153.71,50.74 L154.82,51.67 L155.90,52.18 L156.90,53.10 L157.84,54.72 L158.73,55.03 L159.58,56.55 L160.41,56.95 L161.21,58.11 L162.00,59.37 L162.77,60.18 L163.54,60.60 L164.27,62.10 L164.98,63.21 L165.64,63.91 L166.25,65.09 L166.67,66.92 L167.06,67.69 L167.42,68.56 L167.77,70.05 L168.09,71.34 L168.40,72.59 L168.70,73.82 L169.00,75.00 L169.33,76.29 L169.66,77.52 L169.96,78.73 L170.25,79.96 L170.52,81.22 L170.77,82.56 L171.00,84.00 L171.14,85.08 L171.27,86.22 L171.39,87.41 L171.49,88.63 L171.59,89.88 L171.68,91.13 L171.76,92.38 L171.84,93.62 L171.92,94.83 L172.00,96.00 L172.09,97.31 L172.17,98.67 L172.24,100.06 L172.32,101.42 L172.38,102.75 L172.44,104.00 L172.50,105.15 L172.55,106.16 L172.60,107.00 L172.56,109.01 L172.80,109.50 L173.98,108.94 L175.60,108.40 L176.81,108.89 L178.11,109.80 L179.30,111.00 L180.02,112.04 L180.64,113.24 L181.24,114.63 L181.90,116.25 L182.33,117.32 L182.78,118.52 L183.25,119.79 L183.72,121.12 L184.18,122.45 L184.61,123.76 L185.00,125.00 L185.40,126.33 L185.77,127.57 L186.10,128.80 L186.41,130.06 L186.71,131.44 L187.00,133.00 L187.17,134.03 L187.34,135.13 L187.50,136.27 L187.66,137.46 L187.81,138.69 L187.95,139.94 L188.10,141.20 L188.23,142.47 L188.37,143.74 L188.50,145.00 L188.63,146.25 L188.75,147.52 L188.87,148.79 L188.99,150.08 L189.10,151.38 L189.21,152.68 L189.31,153.99 L189.41,155.32 L189.51,156.66 L189.60,158.00 L189.68,159.22 L189.75,160.42 L189.82,161.61 L189.88,162.81 L189.95,164.01 L190.00,165.24 L190.06,166.50 L190.12,167.79 L190.18,169.14 L190.24,170.54 L190.30,172.00 L190.35,173.13 L190.39,174.31 L190.44,175.53 L190.49,176.79 L190.54,178.07 L190.59,179.38 L190.64,180.71 L190.69,182.04 L190.73,183.38 L190.78,184.70 L190.83,186.02 L190.87,187.31 L190.92,188.58 L190.96,189.81 L191.00,191.00 L191.04,192.25 L191.07,193.35 L191.10,194.33 L191.12,195.23 L191.14,196.11 L191.16,196.99 L191.18,197.93 L191.21,198.96 L191.24,200.13 L191.29,201.47 L191.34,203.04 L191.41,204.87 L191.50,207.00 L191.54,207.86 L191.57,208.76 L191.62,209.71 L191.66,210.70 L191.70,211.73 L191.75,212.81 L191.80,213.92 L191.85,215.06 L191.90,216.23 L191.96,217.43 L192.01,218.66 L192.07,219.91 L192.12,221.18 L192.18,222.48 L192.24,223.79 L192.30,225.11 L192.36,226.44 L192.43,227.79 L192.49,229.14 L192.55,230.49 L192.61,231.85 L192.67,233.21 L192.74,234.56 L192.80,235.91 L192.86,237.25 L192.92,238.58 L192.99,239.90 L193.05,241.20 L193.11,242.49 L193.17,243.76 L193.23,245.00 L193.28,246.22 L193.34,247.41 L193.39,248.57 L193.45,249.70 L193.50,250.80 L193.56,252.18 L193.63,253.55 L193.69,254.90 L193.74,256.24 L193.80,257.57 L193.85,258.89 L193.91,260.19 L193.96,261.48 L194.01,262.76 L194.06,264.02 L194.11,265.28 L194.16,266.52 L194.21,267.74 L194.26,268.96 L194.31,270.16 L194.37,271.35 L194.42,272.52 L194.48,273.68 L194.54,274.83 L194.60,275.97 L194.66,277.09 L194.73,278.21 L194.80,279.30 L194.87,280.39 L194.95,281.46 L195.03,282.52 L195.11,283.57 L195.20,284.60 L195.34,286.10 L195.48,287.58 L195.62,289.03 L195.77,290.46 L195.93,291.86 L196.09,293.23 L196.25,294.58 L196.42,295.90 L196.60,297.19 L196.78,298.44 L196.96,299.67 L197.15,300.87 L197.34,302.03 L197.54,303.16 L197.74,304.26 L197.95,305.32 L198.16,306.35 L198.38,307.34 L198.60,308.30 L199.04,310.00 L199.51,311.56 L200.01,312.97 L200.52,314.27 L201.04,315.46 L201.58,316.55 L202.12,317.55 L202.65,318.49 L203.18,319.37 L203.70,320.20 L204.67,321.62 L205.58,322.68 L206.52,323.47 L207.57,324.08 L208.80,324.60 L209.81,324.91 L210.91,325.11 L212.07,325.23 L213.30,325.29 L214.57,325.31 L215.88,325.31 L217.20,325.30 L218.39,325.29 L219.63,325.26 L220.90,325.20 L222.19,325.12 L223.50,325.03 L224.81,324.91 L226.12,324.76 L227.40,324.60 L228.66,324.40 L229.92,324.17 L231.18,323.91 L232.43,323.63 L233.69,323.34 L234.95,323.05 L236.22,322.77 L237.50,322.50 L238.87,322.23 L240.34,321.95 L241.87,321.65 L243.38,321.37 L244.81,321.10 L246.10,320.86 L247.19,320.65 L248.00,320.50" fill="none" stroke="#0000ff" stroke-width="1.90" stroke-linejoin="round" stroke-linecap="round" />
<path d="M248.60,241.90 L249.44,241.68 L250.59,241.39 L251.97,241.04 L253.47,240.66 L255.02,240.26 L256.52,239.87 L257.88,239.51 L259.00,239.20 L260.60,238.75 L261.76,238.40 L262.84,238.03 L264.20,237.50 L265.19,237.09 L266.29,236.62 L267.46,236.10 L268.65,235.56 L269.83,235.02 L270.96,234.49 L272.00,234.00 L273.32,233.38 L274.56,232.79 L275.72,232.21 L276.83,231.62 L277.90,231.00 L279.18,230.16 L280.38,229.28 L281.49,228.39 L282.50,227.50 L283.67,226.35 L284.66,225.20 L285.50,224.00 L286.08,223.07 L286.51,222.09 L287.10,220.00 L287.33,219.09 L287.59,218.01 L287.86,216.81 L288.16,215.49 L288.46,214.11 L288.77,212.68 L289.08,211.25 L289.39,209.83 L289.68,208.46 L289.95,207.18 L290.20,206.00 L290.51,204.50 L290.78,203.06 L291.04,201.67 L291.28,200.34 L291.52,199.07 L291.76,197.86 L292.02,196.70 L292.30,195.60 L292.79,193.89 L293.30,192.26 L293.84,190.81 L294.37,189.66 L294.90,188.90 L296.23,188.91 L297.50,190.40 L298.05,191.39 L298.55,192.64 L299.05,194.07 L299.60,195.60 L299.99,196.74 L300.39,198.01 L300.81,199.34 L301.24,200.66 L301.70,201.87 L302.20,202.90 L303.04,204.16 L303.96,205.18 L304.90,205.99 L305.80,206.60 L307.37,207.19 L309.00,207.00 L309.97,206.70 L311.03,206.24 L312.09,205.54 L313.10,204.50 L313.69,203.58 L314.22,202.50 L314.74,201.28 L315.29,199.94 L315.91,198.51 L316.65,197.00 L317.17,196.04 L317.75,195.02 L318.38,193.96 L319.03,192.85 L319.70,191.72 L320.38,190.57 L321.05,189.41 L321.71,188.26 L322.33,187.12 L322.90,186.00 L323.49,184.78 L324.06,183.56 L324.61,182.33 L325.14,181.11 L325.65,179.89 L326.15,178.67 L326.64,177.44 L327.12,176.22 L327.60,175.00 L328.07,173.77 L328.54,172.52 L328.99,171.27 L329.43,170.02 L329.87,168.77 L330.29,167.54 L330.70,166.33 L331.11,165.15 L331.50,164.00 L331.94,162.72 L332.37,161.45 L332.79,160.19 L333.19,158.96 L333.58,157.78 L333.95,156.66 L334.29,155.63 L334.60,154.70 L335.09,153.46 L335.46,152.76 L335.79,151.85 L336.20,150.00 L336.35,149.15 L336.51,148.20 L336.67,147.16 L336.84,146.04 L337.01,144.84 L337.18,143.59 L337.36,142.29 L337.53,140.96 L337.71,139.60 L337.89,138.24 L338.06,136.87 L338.23,135.52 L338.40,134.20 L338.54,133.05 L338.69,131.87 L338.83,130.67 L338.97,129.45 L339.12,128.21 L339.26,126.96 L339.40,125.71 L339.55,124.45 L339.69,123.20 L339.83,121.96 L339.96,120.72 L340.10,119.51 L340.24,118.31 L340.37,117.14 L340.50,116.00 L340.65,114.72 L340.80,113.49 L340.95,112.28 L341.10,111.10 L341.25,109.93 L341.40,108.78 L341.54,107.63 L341.68,106.48 L341.81,105.33 L341.95,104.16 L342.07,102.97 L342.19,101.75 L342.30,100.50 L342.39,99.33 L342.48,98.18 L342.55,97.04 L342.62,95.89 L342.69,94.75 L342.75,93.59 L342.81,92.41 L342.86,91.20 L342.92,89.96 L342.99,88.68 L343.05,87.35 L343.13,85.96 L343.21,84.52 L343.30,83.00 L343.37,81.93 L343.44,80.79 L343.51,79.58 L343.58,78.33 L343.66,77.03 L343.74,75.70 L343.82,74.33 L343.91,72.95 L343.99,71.56 L344.08,70.16 L344.16,68.78 L344.25,67.40 L344.34,66.05 L344.42,64.72 L344.51,63.44 L344.59,62.20 L344.68,61.02 L344.76,59.90 L344.84,58.85 L344.92,57.88 L345.00,57.00 L345.23,54.76 L345.45,52.98 L345.67,51.58 L345.88,50.46 L346.09,49.55 L346.30,48.76 L346.50,48.00 L347.80,46.20 L348.64,45.38 L349.70,45.73 L350.91,45.18 L352.20,44.17 L353.50,43.99 L354.54,43.55 L355.56,43.33 L356.61,43.04 L357.77,41.89 L359.08,41.53 L360.60,42.27 L361.64,41.82 L362.76,42.23 L363.95,41.49 L365.20,42.11 L366.51,42.57 L367.84,42.22 L369.20,43.20 L370.57,43.35 L371.94,42.60 L373.30,42.78 L374.53,43.51 L375.79,44.11 L377.06,43.66 L378.35,43.65 L379.65,44.05 L380.96,43.80 L382.27,44.21 L383.59,44.67 L384.90,44.96 L386.20,44.93 L387.50,45.20 L388.69,45.46 L389.88,46.00 L391.07,46.09 L392.27,46.09 L393.46,47.29 L394.66,47.31 L395.85,47.74 L397.03,47.61 L398.21,48.88 L399.39,49.16 L400.55,48.80 L401.70,49.52 L402.86,50.48 L404.04,51.05 L405.24,51.92 L406.44,52.01 L407.63,53.15 L408.81,53.67 L409.96,53.98 L411.08,55.01 L412.15,56.04 L413.17,56.68 L414.12,56.97 L415.00,57.70 L416.16,57.97 L417.16,59.04 L418.03,60.45 L418.81,60.82 L419.54,61.36 L420.25,62.60 L420.99,63.66 L421.80,64.59 L422.57,65.18 L423.35,66.21 L424.13,67.29 L424.92,68.62 L425.70,69.39 L426.47,70.32 L427.21,71.51 L427.92,72.10 L428.60,73.20 L429.24,75.02 L429.86,76.44 L430.46,77.14 L431.03,78.06 L431.59,78.96 L432.12,80.48 L432.63,82.15 L433.12,83.06 L433.60,83.94 L434.11,85.54 L434.58,86.06 L435.03,87.56 L435.45,89.24 L435.85,90.05 L436.24,91.19 L436.62,92.32 L437.00,94.05 L437.27,95.65 L437.52,95.85 L437.77,98.04 L438.01,99.46 L438.24,100.93 L438.47,102.16 L438.70,103.58 L438.92,104.54 L439.14,105.76 L439.37,106.64 L439.60,107.11 L440.34,110.13 L441.08,110.80 L442.10,110.87 L443.15,111.16 L444.37,110.65 L445.73,109.99 L447.20,109.83 L448.29,110.23 L449.51,110.66 L450.78,111.08 L452.03,111.41 L453.20,111.46 L454.20,112.20 L455.36,112.84 L456.26,114.00 L457.08,115.18 L458.00,116.33 L458.64,117.30 L459.34,118.54 L460.07,119.26 L460.79,121.27 L461.45,122.36 L462.00,122.78 L462.40,123.47" fill="none" stroke="#ff0000" stroke-width="1.60" stroke-linejoin="round" stroke-linecap="round" />
<path d="M248.60,241.00 L249.33,240.79 L250.31,240.52 L251.49,240.19 L252.79,239.82 L254.16,239.43 L255.53,239.04 L256.84,238.66 L258.02,238.31 L259.00,238.00 L260.60,237.46 L261.76,237.03 L262.84,236.58 L264.20,236.00 L265.19,235.58 L266.29,235.10 L267.46,234.59 L268.65,234.06 L269.83,233.52 L270.96,233.00 L272.00,232.50 L273.32,231.85 L274.56,231.21 L275.72,230.59 L276.83,229.95 L277.90,229.30 L279.19,228.44 L280.40,227.56 L281.51,226.67 L282.50,225.80 L283.57,224.73 L284.43,223.68 L285.20,222.50 L285.71,221.64 L286.16,220.79 L286.59,219.68 L287.10,218.00 L287.33,217.09 L287.58,216.03 L287.83,214.85 L288.09,213.59 L288.36,212.27 L288.63,210.93 L288.90,209.60 L289.17,208.32 L289.44,207.10 L289.70,206.00 L290.07,204.48 L290.44,202.93 L290.81,201.43 L291.19,200.04 L291.56,198.83 L291.93,197.86 L292.30,197.20 L293.57,197.83 L294.90,199.30 L295.90,198.99 L296.95,198.21 L298.00,197.20 L298.77,196.11 L299.54,194.74 L300.32,193.54 L301.10,193.00 L301.91,193.33 L302.73,194.26 L303.54,195.48 L304.30,196.70 L304.99,197.99 L305.64,199.47 L306.26,200.86 L306.90,201.90 L308.07,202.89 L309.50,202.90 L310.60,202.52 L311.92,201.87 L313.20,201.08 L314.20,200.30 L314.78,199.54 L315.00,198.70 L315.75,197.00 L316.19,196.21 L316.72,195.29 L317.33,194.27 L317.99,193.15 L318.68,191.98 L319.39,190.77 L320.09,189.54 L320.77,188.32 L321.42,187.13 L322.00,186.00 L322.59,184.78 L323.16,183.56 L323.71,182.33 L324.24,181.11 L324.75,179.89 L325.25,178.67 L325.74,177.44 L326.22,176.22 L326.70,175.00 L327.17,173.77 L327.64,172.52 L328.09,171.27 L328.53,170.02 L328.97,168.77 L329.39,167.54 L329.80,166.33 L330.21,165.15 L330.60,164.00 L331.04,162.72 L331.47,161.45 L331.89,160.19 L332.29,158.96 L332.68,157.78 L333.05,156.66 L333.39,155.63 L333.70,154.70 L334.17,153.47 L334.50,152.79 L334.83,151.88 L335.30,150.00 L335.49,149.13 L335.70,148.15 L335.93,147.07 L336.18,145.91 L336.43,144.67 L336.69,143.37 L336.95,142.02 L337.21,140.64 L337.47,139.24 L337.72,137.84 L337.96,136.43 L338.19,135.05 L338.40,133.70 L338.57,132.53 L338.73,131.34 L338.89,130.12 L339.04,128.89 L339.19,127.65 L339.33,126.39 L339.46,125.14 L339.60,123.88 L339.73,122.62 L339.86,121.37 L339.99,120.14 L340.12,118.92 L340.24,117.72 L340.37,116.55 L340.50,115.40 L340.65,114.12 L340.80,112.88 L340.95,111.68 L341.10,110.51 L341.25,109.35 L341.40,108.20 L341.54,107.06 L341.68,105.91 L341.81,104.75 L341.95,103.56 L342.07,102.35 L342.19,101.10 L342.30,99.80 L342.39,98.66 L342.47,97.53 L342.55,96.41 L342.62,95.28 L342.68,94.15 L342.74,93.00 L342.80,91.83 L342.86,90.64 L342.92,89.41 L342.97,88.14 L343.03,86.83 L343.09,85.46 L343.16,84.04 L343.23,82.56 L343.30,81.00 L343.35,79.97 L343.40,78.88 L343.44,77.73 L343.49,76.54 L343.54,75.30 L343.59,74.02 L343.64,72.72 L343.69,71.39 L343.74,70.04 L343.80,68.68 L343.85,67.32 L343.90,65.96 L343.95,64.60 L344.01,63.26 L344.06,61.94 L344.12,60.64 L344.18,59.38 L344.23,58.16 L344.29,56.98 L344.35,55.86 L344.41,54.79 L344.47,53.79 L344.54,52.86 L344.60,52.00 L344.78,49.79 L344.96,47.99 L345.13,46.54 L345.31,45.36 L345.52,44.37 L345.76,43.52 L346.05,42.72 L346.40,41.90 L347.17,40.51 L348.04,40.11 L349.17,39.47 L350.70,37.91 L351.65,37.65 L352.72,38.21 L353.88,37.86 L355.12,37.58 L356.44,37.02 L357.80,37.22 L359.19,37.14 L360.60,37.09 L361.75,36.65 L362.94,37.02 L364.16,37.10 L365.41,37.60 L366.68,38.07 L367.98,38.20 L369.29,37.94 L370.62,38.01 L371.96,37.99 L373.30,37.89 L374.53,37.99 L375.79,38.57 L377.06,38.48 L378.35,38.63 L379.65,39.26 L380.96,38.95 L382.27,39.09 L383.59,38.87 L384.90,38.80 L386.20,39.35 L387.50,39.40 L388.68,40.09 L389.87,40.93 L391.05,40.91 L392.23,40.72 L393.42,41.88 L394.60,42.18 L395.78,42.54 L396.97,43.19 L398.15,43.51 L399.33,44.04 L400.52,44.09 L401.70,45.33 L402.81,45.85 L403.97,45.57 L405.15,46.85 L406.34,47.47 L407.54,47.88 L408.73,48.65 L409.90,49.32 L411.04,50.51 L412.14,50.74 L413.19,51.79 L414.17,51.92 L415.08,53.13 L415.90,53.74 L417.17,54.24 L418.16,55.25 L418.96,56.46 L419.64,57.05 L420.29,57.61 L420.98,58.21 L421.80,59.31 L422.53,60.55 L423.29,60.84 L424.07,62.56 L424.86,62.78 L425.65,64.45 L426.43,64.76 L427.19,66.47 L427.92,67.20 L428.60,68.00 L429.24,69.06 L429.86,70.28 L430.46,71.30 L431.03,72.11 L431.59,73.12 L432.12,74.59 L432.63,76.19 L433.12,76.99 L433.60,77.53 L434.06,79.50 L434.50,80.56 L434.91,81.93 L435.31,82.32 L435.69,84.11 L436.05,84.53 L436.39,86.36 L436.71,87.10 L437.00,88.20 L437.29,90.19 L437.54,90.60 L437.76,92.31 L437.96,93.92 L438.14,94.49 L438.31,95.69 L438.50,97.67 L438.70,98.42 L438.88,100.06 L439.01,100.72 L439.13,102.55 L439.25,103.78 L439.41,105.69 L439.64,106.26 L439.96,108.24 L440.40,107.98 L441.38,109.29 L442.62,108.40 L444.01,108.26 L445.47,108.54 L446.90,107.92 L447.94,108.34 L449.06,109.43 L450.21,109.72 L451.35,110.06 L452.43,111.86 L453.39,111.73 L454.20,112.39 L455.04,114.00 L455.62,115.78 L456.05,117.41 L456.44,117.97 L456.90,119.02 L458.24,118.80 L459.50,117.94 L460.07,116.91 L460.61,114.95 L461.09,113.57 L461.50,113.18 L461.65,113.88 L461.79,114.72 L461.91,115.78 L462.02,117.03 L462.12,119.12 L462.21,120.32 L462.28,121.53 L462.35,123.11 L462.40,124.41" fill="none" stroke="#00ee00" stroke-width="1.60" stroke-linejoin="round" stroke-linecap="round" />
<path d="M248.60,243.20 L249.33,242.99 L250.31,242.71 L251.49,242.37 L252.79,241.99 L254.16,241.60 L255.53,241.20 L256.84,240.82 L258.02,240.48 L259.00,240.20 L260.60,239.76 L261.76,239.46 L262.84,239.16 L264.20,238.70 L265.19,238.32 L266.29,237.88 L267.46,237.40 L268.65,236.90 L269.83,236.40 L270.96,235.92 L272.00,235.50 L273.32,235.00 L274.56,234.58 L275.72,234.18 L276.83,233.74 L277.90,233.20 L279.18,232.38 L280.38,231.46 L281.49,230.48 L282.50,229.50 L283.39,228.56 L284.16,227.61 L284.86,226.61 L285.50,225.50 L286.09,224.23 L286.62,222.85 L287.09,221.42 L287.50,220.00 L287.80,218.52 L288.01,216.99 L288.24,215.56 L288.60,214.40 L289.80,212.87 L291.25,212.30 L292.23,212.96 L293.26,214.09 L294.40,214.40 L295.17,213.81 L296.01,212.80 L296.88,211.56 L297.72,210.29 L298.50,209.20 L299.37,207.96 L300.16,206.71 L300.93,205.66 L301.70,205.00 L303.26,205.07 L304.80,206.00 L305.83,206.86 L306.87,207.90 L307.90,208.60 L309.38,208.76 L311.00,208.10 L312.03,207.44 L313.18,206.57 L314.29,205.49 L315.20,204.20 L315.59,203.23 L315.83,202.19 L316.00,201.04 L316.19,199.80 L316.51,198.46 L317.05,197.00 L317.50,196.05 L318.04,195.04 L318.65,193.98 L319.31,192.87 L320.00,191.74 L320.70,190.58 L321.40,189.42 L322.08,188.26 L322.72,187.12 L323.30,186.00 L323.89,184.78 L324.46,183.56 L325.01,182.33 L325.54,181.11 L326.05,179.89 L326.55,178.67 L327.04,177.44 L327.52,176.22 L328.00,175.00 L328.47,173.77 L328.94,172.52 L329.39,171.27 L329.83,170.02 L330.27,168.77 L330.69,167.54 L331.10,166.33 L331.51,165.15 L331.90,164.00 L332.34,162.72 L332.77,161.45 L333.19,160.19 L333.59,158.96 L333.98,157.78 L334.35,156.66 L334.69,155.63 L335.00,154.70 L335.50,153.47 L335.88,152.77 L336.22,151.86 L336.60,150.00 L336.73,149.15 L336.86,148.18 L337.00,147.12 L337.13,145.98 L337.26,144.77 L337.40,143.50 L337.54,142.18 L337.68,140.83 L337.82,139.46 L337.96,138.07 L338.10,136.70 L338.25,135.33 L338.40,134.00 L338.53,132.85 L338.67,131.66 L338.81,130.46 L338.95,129.24 L339.09,128.00 L339.23,126.75 L339.38,125.50 L339.52,124.25 L339.67,123.00 L339.81,121.76 L339.95,120.52 L340.09,119.31 L340.23,118.11 L340.37,116.94 L340.50,115.80 L340.65,114.52 L340.80,113.28 L340.95,112.07 L341.10,110.88 L341.25,109.71 L341.40,108.55 L341.54,107.39 L341.68,106.23 L341.81,105.07 L341.95,103.89 L342.07,102.69 L342.19,101.46 L342.30,100.20 L342.39,99.02 L342.48,97.86 L342.55,96.70 L342.62,95.55 L342.69,94.39 L342.75,93.22 L342.81,92.03 L342.86,90.81 L342.92,89.56 L342.99,88.26 L343.05,86.91 L343.13,85.51 L343.21,84.04 L343.30,82.50 L343.36,81.46 L343.43,80.35 L343.50,79.19 L343.57,77.97 L343.64,76.72 L343.72,75.42 L343.80,74.10 L343.88,72.75 L343.96,71.40 L344.04,70.04 L344.12,68.67 L344.20,67.32 L344.28,65.99 L344.37,64.68 L344.45,63.40 L344.53,62.17 L344.61,60.98 L344.69,59.84 L344.77,58.77 L344.85,57.77 L344.93,56.84 L345.00,56.00 L345.22,53.80 L345.43,52.13 L345.63,50.86 L345.83,49.88 L346.04,49.08 L346.26,48.32 L346.50,47.50 L347.01,45.76 L347.57,44.52 L348.50,43.21 L349.55,42.90 L350.82,42.20 L352.25,42.03 L353.75,41.64 L354.98,40.69 L356.25,40.33 L357.60,40.95 L359.04,40.03 L360.60,39.71 L361.81,40.33 L363.11,39.54 L364.47,39.73 L365.87,39.12 L367.27,39.08 L368.66,38.33 L370.00,38.65 L371.30,38.66 L372.58,37.99 L373.85,37.93 L375.11,37.57 L376.39,36.68 L377.68,37.30 L379.00,37.10 L380.16,36.87 L381.31,36.75 L382.46,37.90 L383.63,37.76 L384.83,38.37 L386.07,38.90 L387.37,39.08 L388.75,39.66 L389.80,39.33 L390.89,40.02 L392.02,39.86 L393.17,40.64 L394.35,40.83 L395.55,40.24 L396.76,40.58 L397.99,41.00 L399.23,42.20 L400.46,42.05 L401.70,42.74 L402.77,42.84 L403.89,43.58 L405.04,44.01 L406.21,44.56 L407.39,45.45 L408.58,46.09 L409.75,47.10 L410.90,47.52 L412.01,48.46 L413.08,49.04 L414.09,49.83 L415.04,50.10 L415.90,50.13 L417.14,51.80 L418.21,52.79 L419.15,53.57 L419.99,54.04 L420.76,55.04 L421.50,55.35 L422.23,56.92 L423.00,57.58 L423.78,58.24 L424.52,58.99 L425.24,60.88 L425.93,62.07 L426.61,62.15 L427.28,64.03 L427.94,64.73 L428.60,65.62 L429.19,66.85 L429.78,68.49 L430.37,69.76 L430.95,70.03 L431.52,71.85 L432.07,72.43 L432.61,74.37 L433.12,75.14 L433.60,76.92 L434.06,78.20 L434.50,78.84 L434.91,80.55 L435.31,80.96 L435.69,81.87 L436.05,83.61 L436.39,84.15 L436.71,85.50 L437.00,86.90 L437.30,88.45 L437.55,89.31 L437.78,90.54 L437.98,92.81 L438.16,93.54 L438.34,95.56 L438.51,96.74 L438.70,97.37 L438.92,99.00 L439.10,100.59 L439.27,102.17 L439.47,103.45 L439.74,104.59 L440.10,105.63 L441.14,107.31 L442.44,107.52 L443.80,107.72 L445.16,107.77 L446.57,106.57 L448.00,106.28 L449.41,107.29 L450.84,107.36 L452.30,108.05 L453.45,107.89 L454.64,108.78 L455.81,109.53 L456.90,109.77 L457.71,111.36 L458.49,112.50 L459.23,113.12 L459.90,115.07 L460.50,116.26 L460.94,117.77 L461.33,118.86 L461.68,120.75 L461.97,122.20 L462.21,122.62 L462.40,123.52" fill="none" stroke="#0000ff" stroke-width="1.60" stroke-linejoin="round" stroke-linecap="round" />
<path d="M248.60,239.60 L249.33,239.39 L250.31,239.10 L251.49,238.75 L252.79,238.37 L254.16,237.97 L255.53,237.56 L256.84,237.17 L258.02,236.81 L259.00,236.50 L260.60,235.97 L261.76,235.55 L262.84,235.13 L264.20,234.60 L265.37,234.15 L266.68,233.64 L268.06,233.11 L269.44,232.56 L270.78,232.01 L272.00,231.50 L273.32,230.93 L274.56,230.38 L275.72,229.83 L276.83,229.28 L277.90,228.70 L279.19,227.91 L280.40,227.07 L281.51,226.25 L282.50,225.50 L284.01,224.38 L285.20,223.20 L285.98,222.00 L286.69,220.64 L287.30,219.50 L288.50,217.80 L290.30,217.40 L291.50,217.06 L292.95,216.60 L294.40,216.00 L295.42,215.44 L296.44,214.78 L297.47,214.06 L298.50,213.30 L299.58,212.44 L300.70,211.48 L301.77,210.56 L302.70,209.80 L303.91,209.04 L305.20,208.20 L305.99,207.57 L306.88,206.84 L307.87,206.01 L308.91,205.06 L310.00,204.00 L310.82,203.18 L311.68,202.32 L312.58,201.41 L313.50,200.43 L314.42,199.37 L315.34,198.23 L316.25,197.00 L316.88,196.06 L317.52,195.06 L318.17,193.99 L318.82,192.89 L319.47,191.75 L320.11,190.59 L320.74,189.43 L321.35,188.26 L321.94,187.12 L322.50,186.00 L323.09,184.78 L323.66,183.56 L324.21,182.33 L324.74,181.11 L325.25,179.89 L325.75,178.67 L326.24,177.44 L326.72,176.22 L327.20,175.00 L327.67,173.77 L328.14,172.52 L328.59,171.27 L329.03,170.02 L329.47,168.77 L329.89,167.54 L330.30,166.33 L330.71,165.15 L331.10,164.00 L331.54,162.72 L331.97,161.45 L332.39,160.19 L332.79,158.96 L333.18,157.78 L333.55,156.66 L333.89,155.63 L334.20,154.70 L334.68,153.47 L335.03,152.77 L335.36,151.87 L335.80,150.00 L335.97,149.14 L336.15,148.17 L336.34,147.11 L336.54,145.96 L336.75,144.74 L336.96,143.46 L337.18,142.13 L337.39,140.77 L337.60,139.39 L337.81,138.00 L338.02,136.61 L338.21,135.24 L338.40,133.90 L338.56,132.74 L338.71,131.55 L338.86,130.34 L339.00,129.11 L339.15,127.86 L339.29,126.61 L339.43,125.35 L339.57,124.09 L339.71,122.83 L339.84,121.58 L339.97,120.34 L340.11,119.12 L340.24,117.92 L340.37,116.75 L340.50,115.60 L340.65,114.32 L340.80,113.08 L340.95,111.86 L341.10,110.68 L341.25,109.51 L341.40,108.36 L341.54,107.21 L341.68,106.05 L341.81,104.89 L341.95,103.71 L342.07,102.51 L342.19,101.27 L342.30,100.00 L342.39,98.89 L342.47,97.79 L342.54,96.70 L342.61,95.61 L342.67,94.51 L342.72,93.40 L342.78,92.28 L342.83,91.14 L342.89,89.96 L342.94,88.76 L343.00,87.51 L343.07,86.21 L343.14,84.87 L343.21,83.47 L343.30,82.00 L343.36,80.94 L343.43,79.81 L343.50,78.63 L343.57,77.39 L343.64,76.10 L343.72,74.78 L343.80,73.43 L343.88,72.06 L343.96,70.67 L344.04,69.28 L344.12,67.89 L344.20,66.52 L344.28,65.15 L344.37,63.82 L344.45,62.52 L344.53,61.26 L344.61,60.05 L344.69,58.89 L344.77,57.80 L344.85,56.79 L344.93,55.85 L345.00,55.00 L345.22,52.78 L345.43,51.09 L345.63,49.81 L345.83,48.85 L346.04,48.08 L346.26,47.40 L346.50,46.70 L347.28,45.20 L348.50,44.18 L349.49,43.53 L350.68,43.42 L352.03,42.67 L353.50,42.08 L354.50,42.13 L355.50,42.36 L356.57,41.84 L357.74,41.42 L359.07,40.44 L360.60,40.54 L361.64,40.10 L362.76,39.84 L363.95,39.65 L365.20,39.68 L366.51,40.44 L367.84,40.26 L369.20,40.18 L370.57,40.14 L371.94,39.41 L373.30,39.57 L374.53,40.00 L375.79,40.19 L377.06,40.42 L378.35,40.55 L379.65,39.72 L380.96,40.48 L382.27,40.71 L383.59,40.67 L384.90,40.45 L386.20,40.98 L387.50,40.71 L388.69,41.89 L389.88,41.97 L391.07,41.75 L392.27,41.62 L393.46,42.52 L394.66,42.31 L395.85,42.89 L397.03,43.08 L398.21,42.95 L399.39,43.14 L400.55,43.72 L401.70,43.92 L402.86,44.06 L404.04,44.75 L405.24,45.93 L406.44,45.62 L407.63,46.27 L408.81,47.64 L409.96,47.91 L411.08,48.90 L412.15,49.52 L413.17,50.04 L414.12,51.47 L415.00,51.13 L416.16,52.28 L417.16,52.89 L418.03,54.25 L418.81,54.67 L419.54,55.61 L420.25,56.95 L420.99,57.34 L421.80,58.57 L422.57,59.85 L423.35,59.78 L424.13,60.64 L424.92,61.76 L425.70,63.35 L426.47,64.13 L427.21,64.66 L427.92,65.77 L428.60,66.61 L429.24,68.00 L429.86,68.59 L430.46,70.48 L431.03,71.85 L431.59,73.06 L432.12,73.95 L432.63,75.37 L433.12,75.39 L433.60,76.85 L434.11,78.93 L434.60,79.97 L435.07,80.81 L435.51,82.73 L435.92,83.62 L436.31,85.13 L436.67,85.78 L437.00,86.93 L437.30,88.52 L437.55,89.45 L437.78,91.06 L437.98,93.06 L438.16,93.60 L438.34,94.48 L438.51,95.76 L438.70,97.10 L438.90,99.20 L439.05,100.08 L439.20,101.35 L439.35,102.42 L439.54,104.67 L439.78,105.05 L440.10,105.65 L441.14,106.76 L442.44,107.32 L443.80,107.60 L445.16,107.76 L446.57,106.25 L448.00,105.65 L449.41,106.51 L450.84,106.94 L452.30,108.60 L453.45,107.95 L454.64,108.80 L455.81,109.59 L456.90,109.99 L457.58,111.49 L458.24,111.85 L458.87,112.67 L459.46,114.03 L460.01,114.78 L460.50,116.41 L460.94,117.45 L461.33,119.60 L461.68,120.95 L461.97,121.87 L462.21,122.43 L462.40,123.51" fill="none" stroke="#000000" stroke-width="1.70" stroke-linejoin="round" stroke-linecap="round" />
<path d="M463.50,243.10 L464.30,242.70 L465.44,242.11 L466.81,241.50 L468.30,241.00 L469.42,240.79 L470.70,240.76 L472.05,240.75 L473.38,240.68 L474.59,240.64 L475.60,240.22 L476.81,239.66 L477.55,237.96 L478.75,237.37 L479.74,237.30 L480.94,236.53 L482.24,236.24 L483.58,234.96 L484.86,234.66 L486.00,233.77 L487.00,233.25 L487.94,232.40 L488.82,230.97 L489.66,230.20 L490.46,229.31 L491.25,228.97 L492.14,227.80 L492.97,226.23 L493.76,225.79 L494.56,224.18 L495.40,223.61 L496.28,222.33 L497.16,221.57 L498.07,221.62 L499.01,219.94 L500.00,218.24 L500.36,218.14 L500.73,217.15 L501.09,215.65 L501.46,215.21 L501.84,213.72 L502.21,212.69 L502.60,211.06 L502.99,210.49 L503.40,209.00 L503.81,207.97 L504.24,206.63 L504.68,204.82 L505.13,203.61 L505.60,202.20 L506.03,201.10 L506.49,199.94 L506.96,199.05 L507.46,198.20 L507.96,196.53 L508.48,196.00 L509.00,194.55 L509.52,193.37 L510.05,192.67 L510.57,191.21 L511.08,189.90 L511.58,188.89 L512.07,187.93 L512.53,186.20 L512.98,185.87 L513.40,183.87 L513.82,183.31 L514.23,182.17 L514.63,180.21 L515.01,179.68 L515.37,178.08 L515.73,177.05 L516.07,175.32 L516.41,174.13 L516.74,173.03 L517.06,172.51 L517.37,170.60 L517.68,169.89 L517.99,168.82 L518.30,167.62 L518.60,165.86 L518.90,164.67 L519.20,163.66 L519.49,162.76 L519.77,161.04 L520.05,160.51 L520.32,159.44 L520.59,158.38 L520.85,156.51 L521.10,156.17 L521.35,154.21 L521.59,153.20 L521.83,152.15 L522.06,151.08 L522.28,149.15 L522.50,148.18 L522.64,146.82 L522.77,145.57 L522.90,144.50 L523.02,143.27 L523.15,142.06 L523.26,140.97 L523.38,140.29 L523.49,139.37 L523.60,137.42 L523.71,136.09 L523.82,135.70 L523.92,134.04 L524.02,132.67 L524.12,131.25 L524.22,130.30 L524.32,129.23 L524.42,127.61 L524.52,126.30 L524.61,124.69 L524.71,124.18 L524.81,122.11 L524.90,121.26 L525.00,120.30 L525.09,118.51 L525.18,117.90 L525.27,116.94 L525.36,115.50 L525.45,114.48 L525.54,112.71 L525.62,111.84 L525.71,110.42 L525.80,109.88 L525.88,108.21 L525.97,107.18 L526.05,106.49 L526.13,105.17 L526.22,104.09 L526.30,102.42 L526.37,101.25 L526.45,100.25 L526.53,98.81 L526.60,97.41 L526.67,96.27 L526.74,94.79 L526.81,93.74 L526.88,93.02 L526.94,91.71 L527.00,90.11 L527.05,88.86 L527.10,87.54 L527.15,86.11 L527.19,85.04 L527.23,84.24 L527.27,83.04 L527.31,81.29 L527.35,80.36 L527.38,79.02 L527.42,77.62 L527.45,76.25 L527.48,75.00 L527.52,73.31 L527.55,72.28 L527.58,70.58 L527.61,69.45 L527.64,68.41 L527.67,67.06 L527.69,65.45 L527.72,64.81 L527.75,63.34 L527.78,62.10 L527.81,60.46 L527.84,59.84 L527.87,58.52 L527.90,57.88 L527.93,56.73 L527.97,56.14 L528.00,55.13 L528.10,53.03 L528.20,50.69 L528.30,49.29 L528.40,47.93 L528.50,46.77 L528.60,45.26 L528.70,44.75 L528.80,43.92 L528.90,42.95 L529.00,42.43 L529.41,40.43 L530.00,39.42 L531.02,38.21 L532.50,37.00 L534.02,37.29 L535.79,37.30 L537.20,37.28 L537.93,38.52 L538.31,40.07 L538.75,41.71 L539.24,42.36 L539.77,44.10 L540.30,45.23 L540.80,46.85 L541.06,47.67 L541.32,49.02 L541.56,50.40 L541.80,51.55 L542.04,52.89 L542.27,53.47 L542.50,54.69 L542.82,56.51 L543.14,58.33 L543.45,59.42 L543.74,60.94 L544.00,61.37 L544.29,60.33 L544.53,59.32 L544.76,57.33 L545.00,55.60 L545.22,54.46 L545.43,53.49 L545.67,52.10 L546.00,50.52 L546.24,49.20 L546.52,48.19 L546.82,46.59 L547.14,45.26 L547.47,43.80 L547.79,42.22 L548.10,41.86 L549.09,39.57 L550.20,39.81 L551.46,40.18 L553.30,41.42 L554.21,41.58 L555.27,42.66 L556.42,42.74 L557.63,43.02 L558.84,44.24 L560.00,44.64 L560.87,45.75 L561.78,46.29 L562.70,47.29 L563.62,48.48 L564.50,49.32 L565.33,50.07 L566.07,51.70 L566.70,53.03 L567.01,53.74 L567.28,54.59 L567.52,56.14 L567.74,57.31 L567.93,58.93 L568.10,60.25 L568.25,61.27 L568.39,62.40 L568.52,64.26 L568.63,64.83 L568.75,66.28 L568.86,68.02 L568.98,69.36 L569.10,70.18 L569.23,71.90 L569.34,73.39 L569.44,74.16 L569.53,75.42 L569.61,76.43 L569.69,77.69 L569.76,79.51 L569.83,80.20 L569.90,81.96 L569.97,83.19 L570.04,84.22 L570.12,85.27 L570.20,87.33 L570.27,88.07 L570.34,89.28 L570.41,90.57 L570.48,92.62 L570.55,93.69 L570.62,95.04 L570.69,96.75 L570.76,97.97 L570.83,99.92 L570.90,101.20 L570.97,102.43 L571.04,104.14 L571.12,105.33 L571.19,105.60 L571.26,106.92 L571.33,107.34 L571.40,108.39 L571.56,108.57 L571.71,107.51 L571.85,106.26 L572.00,104.41 L572.17,103.13 L572.37,100.39 L572.60,98.70 L572.75,97.49 L572.90,96.38 L573.07,94.95 L573.25,93.60 L573.44,91.50 L573.63,90.52 L573.83,88.58 L574.03,87.32 L574.23,85.77 L574.43,84.50 L574.62,83.66 L574.82,82.76 L575.00,82.07 L575.58,81.89 L576.16,82.73 L576.73,84.15 L577.30,86.68 L577.51,87.79 L577.73,89.27 L577.96,90.42 L578.18,91.38 L578.41,92.24 L578.63,94.32 L578.84,95.42 L579.05,96.98 L579.25,98.50 L579.43,99.81 L579.60,100.98 L579.74,102.69 L579.85,103.61 L579.94,105.04 L580.02,106.91 L580.09,107.76 L580.16,109.25 L580.24,111.07 L580.34,111.64 L580.46,113.47 L580.61,114.34 L580.80,114.94 L581.75,116.44 L582.96,117.21 L584.30,117.67 L585.42,117.60 L586.65,118.55 L587.88,119.23 L589.00,119.70 L590.30,119.74 L591.47,119.65 L592.50,120.98 L592.89,121.99 L593.22,122.29 L593.53,123.56 L593.83,125.39 L594.13,126.82 L594.45,128.34 L594.80,129.57 L595.00,131.16 L595.20,132.38 L595.42,133.41 L595.65,134.19 L595.88,134.69 L596.11,136.54 L596.34,137.16 L596.58,138.78 L596.80,140.35 L597.02,141.50 L597.24,142.41 L597.44,144.06 L597.63,146.21 L597.80,147.18 L597.89,148.59 L597.98,149.45 L598.06,150.61 L598.14,151.74 L598.22,152.90 L598.29,154.10 L598.36,155.34 L598.43,156.59 L598.50,157.87 L598.56,159.17 L598.63,160.48 L598.69,161.81 L598.75,163.13 L598.81,164.46 L598.86,165.79 L598.92,167.11 L598.97,168.42 L599.03,169.71 L599.08,170.98 L599.13,172.24 L599.19,173.46 L599.24,174.65 L599.29,175.81 L599.35,176.93 L599.40,178.00 L599.47,179.38 L599.54,180.63 L599.61,181.76 L599.67,182.80 L599.73,183.77 L599.78,184.69 L599.84,185.58 L599.89,186.47 L599.94,187.38 L600.00,188.32 L600.05,189.33 L600.11,190.43 L600.16,191.63 L600.22,192.96 L600.29,194.44 L600.35,196.09 L600.42,197.94 L600.50,200.00 L600.53,200.86 L600.56,201.78 L600.59,202.75 L600.63,203.77 L600.66,204.83 L600.70,205.94 L600.74,207.09 L600.77,208.27 L600.81,209.50 L600.85,210.75 L600.89,212.04 L600.93,213.35 L600.97,214.69 L601.02,216.06 L601.06,217.44 L601.10,218.84 L601.14,220.25 L601.18,221.68 L601.23,223.12 L601.27,224.56 L601.31,226.01 L601.36,227.45 L601.40,228.90 L601.44,230.35 L601.48,231.78 L601.52,233.21 L601.56,234.63 L601.61,236.03 L601.65,237.42 L601.69,238.79 L601.72,240.13 L601.76,241.45 L601.80,242.74 L601.84,244.01 L601.87,245.24 L601.91,246.43 L601.94,247.59 L601.97,248.71 L602.00,249.78 L602.03,250.81 L602.06,251.79 L602.09,252.71 L602.11,253.59 L602.14,254.41 L602.16,255.17 L602.18,255.87 L602.20,256.50" fill="none" stroke="#ff0000" stroke-width="1.50" stroke-linejoin="round" stroke-linecap="round" />
<path d="M609.40,316.90 C609.68,317.50 610.47,319.47 611.10,320.50 C611.73,321.53 612.47,322.35 613.20,323.10 C613.93,323.85 615.12,324.68 615.50,325.00" fill="none" stroke="#ff0000" stroke-width="1.50" stroke-linejoin="round" stroke-linecap="round" />
<path d="M463.50,244.70 L464.45,244.48 L465.79,244.17 L467.35,243.81 L468.95,243.44 L470.40,243.36 L471.70,243.10 L472.97,242.53 L474.22,242.06 L475.46,241.52 L476.70,241.75 L477.94,241.15 L479.18,240.96 L480.42,240.12 L481.66,239.90 L482.90,238.80 L483.96,238.65 L485.03,237.90 L486.11,236.89 L487.18,236.22 L488.21,235.52 L489.20,234.22 L490.12,233.66 L490.99,232.98 L491.82,231.54 L492.65,231.01 L493.50,229.83 L494.40,228.81 L495.10,227.47 L495.80,226.38 L496.51,226.14 L497.24,225.21 L497.98,223.87 L498.75,222.42 L499.56,221.21 L500.40,220.12 L500.87,218.93 L501.36,218.57 L501.87,217.23 L502.38,215.82 L502.91,215.12 L503.45,213.71 L504.00,213.04 L504.54,211.82 L505.09,210.25 L505.63,209.14 L506.17,207.96 L506.69,206.84 L507.21,205.78 L507.71,203.74 L508.20,202.88 L508.67,201.95 L509.14,200.54 L509.60,199.66 L510.06,198.08 L510.51,197.65 L510.96,196.20 L511.40,194.69 L511.83,194.04 L512.26,192.57 L512.68,191.30 L513.09,190.39 L513.50,188.90 L513.91,187.77 L514.31,187.15 L514.70,185.78 L515.06,184.01 L515.42,183.55 L515.77,181.72 L516.12,180.85 L516.46,180.22 L516.80,178.80 L517.13,177.35 L517.46,176.23 L517.78,175.04 L518.10,173.58 L518.41,173.12 L518.71,171.00 L519.02,170.03 L519.32,168.99 L519.61,167.31 L519.90,166.43 L520.12,164.66 L520.34,164.16 L520.56,162.88 L520.77,161.44 L520.99,160.36 L521.20,158.67 L521.41,157.70 L521.62,156.33 L521.83,154.74 L522.03,153.36 L522.23,152.23 L522.42,150.63 L522.61,149.02 L522.80,148.31 L522.97,146.60 L523.15,145.56 L523.31,144.62 L523.47,142.90 L523.62,141.64 L523.76,140.67 L523.90,140.08 L524.11,138.30 L524.29,136.88 L524.44,135.90 L524.57,135.31 L524.68,133.76 L524.78,132.98 L524.87,132.45 L524.96,131.18 L525.06,129.69 L525.16,128.51 L525.27,126.90 L525.40,124.68 L525.46,124.00 L525.52,123.00 L525.59,122.46 L525.65,121.00 L525.72,120.23 L525.79,119.40 L525.86,118.21 L525.93,116.54 L526.00,115.54 L526.07,114.05 L526.15,112.87 L526.22,111.68 L526.29,110.66 L526.36,109.49 L526.44,107.59 L526.51,106.01 L526.58,105.09 L526.65,103.40 L526.72,102.06 L526.79,101.40 L526.85,99.50 L526.92,98.74 L526.98,97.13 L527.04,96.38 L527.10,95.05 L527.15,93.11 L527.20,92.03 L527.25,91.54 L527.30,90.10 L527.35,88.63 L527.40,87.64 L527.44,86.35 L527.48,84.75 L527.52,83.41 L527.55,81.77 L527.58,80.69 L527.61,79.19 L527.64,78.32 L527.66,77.02 L527.69,75.32 L527.71,74.49 L527.73,72.76 L527.75,71.54 L527.77,70.81 L527.79,69.45 L527.81,68.68 L527.83,67.29 L527.85,66.23 L527.87,64.62 L527.90,64.20 L527.92,62.50 L527.94,61.98 L527.97,61.29 L528.00,60.37 L528.06,58.54 L528.12,56.46 L528.18,55.10 L528.24,53.73 L528.31,51.78 L528.37,51.24 L528.43,50.04 L528.50,48.54 L528.57,47.84 L528.64,46.61 L528.72,45.60 L528.80,45.19 L529.12,42.52 L529.49,42.37 L530.00,41.93 L531.06,40.39 L532.50,40.30 L533.78,38.95 L535.24,39.07 L536.70,38.10 L538.07,38.38 L539.43,37.67 L540.80,38.18 L542.19,37.90 L543.60,38.77 L545.00,40.18 L546.36,40.60 L547.73,41.02 L549.20,41.08 L550.42,41.56 L551.71,42.07 L553.05,42.15 L554.40,43.44 L555.51,43.67 L556.67,44.31 L557.83,44.60 L558.95,44.84 L560.00,45.22 L561.15,46.54 L562.19,46.73 L563.23,48.07 L564.40,49.37 L564.99,50.18 L565.61,50.68 L566.27,51.63 L566.94,53.06 L567.61,53.70 L568.29,55.27 L568.95,56.09 L569.59,57.38 L570.20,58.44 L570.73,59.88 L571.25,60.81 L571.76,61.78 L572.26,62.92 L572.75,64.39 L573.23,65.89 L573.69,66.66 L574.15,67.66 L574.58,69.06 L575.00,70.27 L575.34,71.65 L575.66,72.96 L575.97,73.90 L576.27,74.72 L576.57,76.01 L576.85,77.25 L577.13,78.49 L577.39,79.65 L577.65,81.39 L577.91,82.18 L578.16,83.47 L578.40,84.69 L578.66,85.93 L578.91,87.42 L579.16,88.40 L579.40,90.05 L579.63,91.71 L579.85,92.34 L580.06,94.07 L580.26,95.13 L580.45,96.05 L580.63,97.16 L580.80,98.83 L581.07,99.95 L581.28,101.99 L581.46,102.76 L581.62,104.14 L581.80,104.79 L582.00,106.04 L583.50,107.26 L585.50,106.55 L586.56,106.94 L587.78,107.50 L589.00,107.81 L589.60,108.71 L590.21,109.81 L590.83,110.97 L591.42,111.56 L591.99,113.45 L592.50,114.66 L592.73,115.61 L592.94,117.45 L593.14,117.74 L593.33,119.71 L593.51,120.81 L593.68,122.04 L593.85,123.42 L594.03,124.70 L594.20,125.74 L594.39,127.25 L594.59,128.39 L594.80,130.32 L595.00,131.37 L595.20,132.45 L595.42,132.98 L595.65,134.36 L595.88,135.09 L596.11,136.63 L596.34,137.66 L596.58,139.01 L596.80,139.93 L597.02,141.15 L597.24,142.55 L597.44,143.36 L597.63,145.34 L597.80,146.48 L597.89,147.77 L597.98,148.59 L598.06,150.03 L598.14,151.17 L598.22,152.36 L598.29,153.58 L598.36,154.83 L598.43,156.12 L598.50,157.43 L598.56,158.75 L598.63,160.10 L598.69,161.45 L598.75,162.81 L598.81,164.17 L598.86,165.53 L598.92,166.89 L598.97,168.23 L599.03,169.55 L599.08,170.86 L599.13,172.14 L599.19,173.38 L599.24,174.60 L599.29,175.78 L599.35,176.91 L599.40,178.00 L599.47,179.40 L599.54,180.65 L599.61,181.79 L599.67,182.84 L599.73,183.81 L599.78,184.73 L599.84,185.62 L599.89,186.51 L599.94,187.41 L600.00,188.36 L600.05,189.36 L600.11,190.45 L600.16,191.64 L600.22,192.97 L600.29,194.44 L600.35,196.09 L600.42,197.94 L600.50,200.00 L600.53,200.86 L600.56,201.78 L600.59,202.75 L600.63,203.77 L600.66,204.83 L600.70,205.94 L600.74,207.09 L600.77,208.27 L600.81,209.50 L600.85,210.75 L600.89,212.04 L600.93,213.35 L600.97,214.69 L601.02,216.06 L601.06,217.44 L601.10,218.84 L601.14,220.25 L601.18,221.68 L601.23,223.12 L601.27,224.56 L601.31,226.01 L601.36,227.45 L601.40,228.90 L601.44,230.35 L601.48,231.78 L601.52,233.21 L601.56,234.63 L601.61,236.03 L601.65,237.42 L601.69,238.79 L601.72,240.13 L601.76,241.45 L601.80,242.74 L601.84,244.01 L601.87,245.24 L601.91,246.43 L601.94,247.59 L601.97,248.71 L602.00,249.78 L602.03,250.81 L602.06,251.79 L602.09,252.71 L602.11,253.59 L602.14,254.41 L602.16,255.17 L602.18,255.87 L602.20,256.50" fill="none" stroke="#000000" stroke-width="1.60" stroke-linejoin="round" stroke-linecap="round" />
<path d="M609.80,316.50 C610.07,317.08 610.80,318.98 611.40,320.00 C612.00,321.02 612.70,321.85 613.40,322.60 C614.10,323.35 615.23,324.18 615.60,324.50" fill="none" stroke="#000000" stroke-width="1.50" stroke-linejoin="round" stroke-linecap="round" />
<line x1="51.00" y1="35.30" x2="616.50" y2="35.30" stroke="#000" stroke-width="1.20"/>
<line x1="58.00" y1="35.30" x2="58.00" y2="326.10" stroke="#555" stroke-width="1.60"/>
<line x1="51.00" y1="326.10" x2="616.50" y2="326.10" stroke="#555" stroke-width="1.50"/>
<line x1="248.50" y1="35.30" x2="248.50" y2="326.10" stroke="#000" stroke-width="1.20"/>
<line x1="463.70" y1="35.30" x2="463.70" y2="326.10" stroke="#000" stroke-width="1.20"/>
<line x1="615.90" y1="35.30" x2="615.90" y2="332.50" stroke="#555" stroke-width="1.60"/>
<text stroke="currentColor" stroke-width="0.25" x="46.60" y="331.70" font-size="18.00" text-anchor="end" fill="#000" color="#000" >0.0</text>
<text stroke="currentColor" stroke-width="0.25" x="46.60" y="273.54" font-size="18.00" text-anchor="end" fill="#000" color="#000" >0.2</text>
<text stroke="currentColor" stroke-width="0.25" x="46.60" y="215.38" font-size="18.00" text-anchor="end" fill="#000" color="#000" >0.4</text>
<text stroke="currentColor" stroke-width="0.25" x="46.60" y="157.22" font-size="18.00" text-anchor="end" fill="#000" color="#000" >0.6</text>
<text stroke="currentColor" stroke-width="0.25" x="46.60" y="99.06" font-size="18.00" text-anchor="end" fill="#000" color="#000" >0.8</text>
<text stroke="currentColor" stroke-width="0.25" x="46.60" y="40.90" font-size="18.00" text-anchor="end" fill="#000" color="#000" >1.0</text>
<text stroke="currentColor" stroke-width="0.25" x="79.03" y="352.00" font-size="18.00" text-anchor="middle" fill="#000" color="#000" >200</text>
<text stroke="currentColor" stroke-width="0.25" x="121.29" y="352.00" font-size="18.00" text-anchor="middle" fill="#000" color="#000" >400</text>
<text stroke="currentColor" stroke-width="0.25" x="163.55" y="352.00" font-size="18.00" text-anchor="middle" fill="#000" color="#000" >600</text>
<text stroke="currentColor" stroke-width="0.25" x="205.81" y="352.00" font-size="18.00" text-anchor="middle" fill="#000" color="#000" >800</text>
<text stroke="currentColor" stroke-width="0.25" x="267.70" y="352.00" font-size="18.00" text-anchor="middle" fill="#000" color="#000" >200</text>
<text stroke="currentColor" stroke-width="0.25" x="345.70" y="352.00" font-size="18.00" text-anchor="middle" fill="#000" color="#000" >400</text>
<text stroke="currentColor" stroke-width="0.25" x="423.70" y="352.00" font-size="18.00" text-anchor="middle" fill="#000" color="#000" >600</text>
<text stroke="currentColor" stroke-width="0.25" x="485.25" y="352.00" font-size="18.00" text-anchor="middle" fill="#000" color="#000" >200</text>
<text stroke="currentColor" stroke-width="0.25" x="528.75" y="352.00" font-size="18.00" text-anchor="middle" fill="#000" color="#000" >400</text>
<text stroke="currentColor" stroke-width="0.25" x="572.25" y="352.00" font-size="18.00" text-anchor="middle" fill="#000" color="#000" >600</text>
<text stroke="currentColor" stroke-width="0.25" x="615.75" y="352.00" font-size="18.00" text-anchor="middle" fill="#000" color="#000" >800</text>
<text stroke="currentColor" stroke-width="0.25" x="347.00" y="374.00" font-size="20" text-anchor="middle" fill="#000">Wavenumber (cm<tspan font-size="12" dy="-8">-1</tspan><tspan dy="8">)</tspan></text>
<text stroke="currentColor" stroke-width="0.25" transform="translate(19.9,172.4) rotate(-90)" font-size="19.5" text-anchor="middle" fill="#000">Reflectance</text>
<text stroke="currentColor" stroke-width="0.25" x="144.60" y="26.40" font-size="18.30" text-anchor="middle" fill="#000" color="#000" >MnO/MgO (001)</text>
<text stroke="currentColor" stroke-width="0.25" x="354.60" y="26.40" font-size="18.30" text-anchor="middle" fill="#000" color="#000" >MnO/MgO (110)</text>
<text stroke="currentColor" stroke-width="0.25" x="537.60" y="27.60" font-size="18.20" text-anchor="middle" fill="#000" color="#000" >MnO/MgO (001)</text>
<text stroke="currentColor" stroke-width="0.25" x="69.40" y="67.00" font-size="19.00" text-anchor="start" fill="#000" color="#000" >a)</text>
<text stroke="currentColor" stroke-width="0.25" x="370.10" y="74.30" font-size="19.00" text-anchor="start" fill="#000" color="#000" >b)</text>
<text stroke="currentColor" stroke-width="0.25" x="476.90" y="67.00" font-size="19.00" text-anchor="start" fill="#000" color="#000" >c)</text>
<rect x="143" y="161.5" width="97" height="45" fill="#fff"/>
<text stroke="currentColor" stroke-width="0.25" x="145.20" y="179.60" font-size="17.10" text-anchor="start" fill="#000" color="#000" >MgO</text>
<text stroke="currentColor" stroke-width="0.25" x="145.20" y="200.00" font-size="17.00" text-anchor="start" fill="#000" color="#000" >multiphonon</text>
<text stroke="currentColor" stroke-width="0.25" x="70.80" y="166.20" font-size="17.90" text-anchor="start" fill="#000" color="#000" >MnO</text>
<text stroke="currentColor" stroke-width="0.25" x="118.60" y="156.70" font-size="18.10" text-anchor="start" fill="#000" color="#000" >MgO</text>
<line x1="123.30" y1="132.00" x2="123.30" y2="99.00" stroke="#333" stroke-width="1.00"/>
<path d="M123.30,93.00 L126.20,102.50 L123.30,100.40 L120.40,102.50 Z" fill="#000"/>
<line x1="173.60" y1="160.00" x2="173.60" y2="117.00" stroke="#333" stroke-width="1.00"/>
<path d="M173.60,111.00 L176.50,120.50 L173.60,118.40 L170.70,120.50 Z" fill="#000"/>
<line x1="96.30" y1="170.40" x2="96.30" y2="190.00" stroke="#333" stroke-width="1.00"/>
<path d="M96.30,196.00 L99.20,186.50 L96.30,188.60 L93.40,186.50 Z" fill="#000"/>
<line x1="102.30" y1="257.80" x2="134.70" y2="257.80" stroke="#000000" stroke-width="1.40"/>
<text stroke="currentColor" stroke-width="0.25" x="139.60" y="262.70" font-size="14.50" text-anchor="start" fill="#000" color="#000" >MgO</text>
<line x1="102.30" y1="276.00" x2="134.70" y2="276.00" stroke="#ff0000" stroke-width="1.40"/>
<text stroke="currentColor" stroke-width="0.25" x="139.60" y="280.90" font-size="14.50" text-anchor="start" fill="#000" color="#000" >34 nm</text>
<line x1="102.30" y1="294.20" x2="134.70" y2="294.20" stroke="#00ee00" stroke-width="1.40"/>
<text stroke="currentColor" stroke-width="0.25" x="139.60" y="299.10" font-size="14.50" text-anchor="start" fill="#000" color="#000" >28 nm</text>
<line x1="102.30" y1="312.40" x2="134.70" y2="312.40" stroke="#0000ff" stroke-width="1.40"/>
<text stroke="currentColor" stroke-width="0.25" x="139.60" y="317.30" font-size="14.50" text-anchor="start" fill="#000" color="#000" >17 nm</text>
<text stroke="currentColor" stroke-width="0.25" x="253.20" y="183.90" font-size="17.90" text-anchor="start" fill="#000" color="#000" >MnO</text>
<line x1="296.20" y1="167.80" x2="296.20" y2="176.00" stroke="#333" stroke-width="1.00"/>
<path d="M296.20,182.00 L299.10,172.50 L296.20,174.60 L293.30,172.50 Z" fill="#000"/>
<line x1="253.90" y1="256.30" x2="287.10" y2="256.30" stroke="#ff0000" stroke-width="1.40"/>
<text stroke="currentColor" stroke-width="0.25" x="291.30" y="261.90" font-size="14.70" text-anchor="start" fill="#000" color="#000" >65 nm</text>
<line x1="253.90" y1="274.60" x2="287.10" y2="274.60" stroke="#00ee00" stroke-width="1.40"/>
<text stroke="currentColor" stroke-width="0.25" x="291.30" y="280.20" font-size="14.70" text-anchor="start" fill="#000" color="#000" >55 nm</text>
<line x1="253.90" y1="292.90" x2="287.10" y2="292.90" stroke="#0000ff" stroke-width="1.40"/>
<text stroke="currentColor" stroke-width="0.25" x="291.30" y="298.50" font-size="14.70" text-anchor="start" fill="#000" color="#000" >26.5 nm</text>
<line x1="253.90" y1="311.20" x2="287.10" y2="311.20" stroke="#000000" stroke-width="1.40"/>
<text stroke="currentColor" stroke-width="0.25" x="291.30" y="316.80" font-size="14.70" text-anchor="start" fill="#000" color="#000" >18 nm</text>
<line x1="327.00" y1="236.30" x2="335.80" y2="236.30" stroke="#000" stroke-width="1.20"/>
<text stroke="currentColor" stroke-width="0.25" x="475.00" y="169.50" font-size="17.90" text-anchor="start" fill="#000" color="#000" >MnO</text>
<line x1="496.30" y1="175.50" x2="496.30" y2="194.80" stroke="#555" stroke-width="1.00"/>
<path d="M496.30,200.80 L499.20,191.30 L496.30,193.40 L493.40,191.30 Z" fill="#000"/>
<line x1="543.75" y1="140.00" x2="543.75" y2="74.00" stroke="#111" stroke-width="1.00"/>
<path d="M543.75,68.00 L546.65,77.50 L543.75,75.40 L540.85,77.50 Z" fill="#000"/>
<line x1="571.90" y1="140.00" x2="571.90" y2="116.20" stroke="#888" stroke-width="1.00"/>
<path d="M571.90,110.20 L574.80,119.70 L571.90,117.60 L569.00,119.70 Z" fill="#000"/>
<line x1="589.00" y1="146.90" x2="589.00" y2="128.20" stroke="#999" stroke-width="1.00"/>
<path d="M589.00,122.20 L591.90,131.70 L589.00,129.60 L586.10,131.70 Z" fill="#000"/>
<text stroke="currentColor" stroke-width="0.25" x="541.4" y="160.1" font-size="18.3" fill="#000">Mn<tspan font-size="11" dy="6.2">3</tspan><tspan dy="-6.2">O</tspan><tspan font-size="11" dy="6.2">4</tspan></text>
<line x1="473.30" y1="267.40" x2="505.00" y2="267.40" stroke="#000000" stroke-width="1.70"/>
<line x1="473.30" y1="285.50" x2="505.00" y2="285.50" stroke="#ff0000" stroke-width="1.70"/>
<rect x="508" y="288" width="100" height="26" fill="#fff"/>
<text stroke="currentColor" stroke-width="0.25" x="510.00" y="272.90" font-size="14.60" text-anchor="start" fill="#000" color="#000" >MgO(001)</text>
<text stroke="currentColor" stroke-width="0.25" x="510.00" y="291.10" font-size="14.60" text-anchor="start" fill="#000" color="#000" >polyphase film</text>
<text stroke="currentColor" stroke-width="0.25" x="510.0" y="311.3" font-size="14.6" fill="#000">40 nm, 2 J/cm<tspan font-size="10" dy="-6.5">2</tspan></text>
<rect x="215" y="49.3" width="119.4" height="90.3" fill="#fff" stroke="#aaa" stroke-width="1"/>
<line x1="215.00" y1="67.30" x2="218.00" y2="67.30" stroke="#aaa" stroke-width="1.00"/>
<line x1="331.40" y1="67.30" x2="334.40" y2="67.30" stroke="#aaa" stroke-width="1.00"/>
<line x1="215.00" y1="85.30" x2="218.00" y2="85.30" stroke="#aaa" stroke-width="1.00"/>
<line x1="331.40" y1="85.30" x2="334.40" y2="85.30" stroke="#aaa" stroke-width="1.00"/>
<line x1="215.00" y1="103.30" x2="218.00" y2="103.30" stroke="#aaa" stroke-width="1.00"/>
<line x1="331.40" y1="103.30" x2="334.40" y2="103.30" stroke="#aaa" stroke-width="1.00"/>
<line x1="215.00" y1="121.30" x2="218.00" y2="121.30" stroke="#aaa" stroke-width="1.00"/>
<line x1="331.40" y1="121.30" x2="334.40" y2="121.30" stroke="#aaa" stroke-width="1.00"/>
<line x1="255.20" y1="139.60" x2="255.20" y2="136.60" stroke="#aaa" stroke-width="1.00"/>
<line x1="255.20" y1="49.30" x2="255.20" y2="52.30" stroke="#aaa" stroke-width="1.00"/>
<line x1="295.40" y1="139.60" x2="295.40" y2="136.60" stroke="#aaa" stroke-width="1.00"/>
<line x1="295.40" y1="49.30" x2="295.40" y2="52.30" stroke="#aaa" stroke-width="1.00"/>
<path d="M215.00,119.30 C216.83,118.65 222.43,116.60 226.00,115.40 C229.57,114.20 233.36,113.30 236.40,112.10 C239.44,110.90 241.65,109.82 244.25,108.20 C246.85,106.58 249.82,104.57 252.00,102.40 C254.18,100.23 256.02,97.60 257.30,95.20 C258.58,92.80 258.52,91.70 259.70,88.00 C260.88,84.30 262.93,77.23 264.40,73.00 C265.87,68.77 267.28,64.95 268.50,62.60 C269.72,60.25 270.65,59.42 271.70,58.90 C272.75,58.38 273.58,58.37 274.80,59.50 C276.02,60.63 277.43,63.28 279.00,65.70 C280.57,68.12 282.47,71.74 284.20,74.00 C285.93,76.26 287.93,78.08 289.40,79.25 C290.87,80.42 291.72,80.62 293.00,81.00 C294.28,81.38 295.77,81.85 297.10,81.50 C298.43,81.15 299.27,79.78 301.00,78.90 C302.73,78.03 304.90,77.67 307.50,76.25 C310.10,74.83 313.55,72.68 316.60,70.40 C319.65,68.12 322.87,65.53 325.80,62.60 C328.73,59.67 332.80,54.43 334.20,52.80" fill="none" stroke="#ff0000" stroke-width="1.50" stroke-linejoin="round" stroke-linecap="round" />
<path d="M215.00,118.00 C216.83,117.46 222.43,115.83 226.00,114.75 C229.57,113.67 232.92,112.81 236.40,111.50 C239.88,110.19 243.85,108.53 246.90,106.90 C249.95,105.27 252.53,103.60 254.70,101.70 C256.87,99.80 258.55,97.78 259.90,95.50 C261.25,93.22 261.53,91.40 262.80,88.00 C264.07,84.60 265.93,79.33 267.50,75.10 C269.07,70.87 270.82,65.82 272.20,62.60 C273.58,59.38 274.85,57.10 275.80,55.80 C276.75,54.50 277.03,54.53 277.90,54.80 C278.77,55.07 279.78,55.58 281.00,57.40 C282.22,59.22 283.80,63.10 285.20,65.70 C286.60,68.30 288.27,71.37 289.40,73.00 C290.53,74.63 290.93,74.70 292.00,75.50 C293.07,76.30 294.52,77.50 295.80,77.80 C297.08,78.10 298.40,77.56 299.70,77.30 C301.00,77.04 302.30,76.75 303.60,76.25 C304.90,75.75 305.33,75.71 307.50,74.30 C309.67,72.89 313.55,70.18 316.60,67.80 C319.65,65.42 322.87,62.93 325.80,60.00 C328.73,57.07 332.80,51.83 334.20,50.20" fill="none" stroke="#ff00ff" stroke-width="1.50" stroke-linejoin="round" stroke-linecap="round" />
<path d="M215.00,116.70 C216.83,116.15 222.43,114.60 226.00,113.40 C229.57,112.20 232.92,111.23 236.40,109.50 C239.88,107.77 244.30,104.95 246.90,103.00 C249.50,101.05 250.65,99.55 252.00,97.80 C253.35,96.05 254.15,94.13 255.00,92.50 C255.85,90.87 256.06,91.42 257.10,88.00 C258.14,84.58 259.87,77.28 261.25,72.00 C262.63,66.72 264.09,59.78 265.40,56.30 C266.71,52.82 267.88,51.44 269.10,51.10 C270.32,50.76 271.58,52.33 272.70,54.25 C273.82,56.17 274.58,59.48 275.80,62.60 C277.02,65.72 278.60,70.22 280.00,73.00 C281.40,75.78 282.82,77.68 284.20,79.25 C285.58,80.82 286.80,81.78 288.30,82.40 C289.80,83.03 291.52,83.05 293.20,83.00 C294.88,82.95 296.67,82.90 298.40,82.10 C300.13,81.30 301.43,79.50 303.60,78.20 C305.77,76.90 308.57,76.25 311.40,74.30 C314.23,72.35 317.55,69.35 320.60,66.50 C323.65,63.65 327.43,59.88 329.70,57.20 C331.97,54.52 333.45,51.53 334.20,50.40" fill="none" stroke="#00e8f0" stroke-width="1.50" stroke-linejoin="round" stroke-linecap="round" />
<text stroke="currentColor" stroke-width="0.25" x="209.70" y="55.00" font-size="10.00" text-anchor="end" fill="#000" color="#000" >0.5</text>
<text stroke="currentColor" stroke-width="0.25" x="209.70" y="91.00" font-size="10.00" text-anchor="end" fill="#000" color="#000" >0.4</text>
<text stroke="currentColor" stroke-width="0.25" x="209.70" y="127.00" font-size="10.00" text-anchor="end" fill="#000" color="#000" >0.3</text>
<text stroke="currentColor" stroke-width="0.25" x="185.40" y="78.00" font-size="12.50" text-anchor="start" fill="#000" color="#000" >R</text>
<text stroke="currentColor" stroke-width="0.25" x="215.20" y="150.40" font-size="10.50" text-anchor="middle" fill="#000" color="#000" >200</text>
<text stroke="currentColor" stroke-width="0.25" x="295.50" y="151.00" font-size="10.50" text-anchor="middle" fill="#000" color="#000" >300</text>
<text stroke="currentColor" stroke-width="0.25" x="254.4" y="154.9" font-size="9" fill="#222">&#969; (cm<tspan font-size="6.5" dy="-4.5">-1</tspan><tspan dy="4.5">)</tspan></text>
<text stroke="currentColor" stroke-width="0.25" x="331.10" y="94.70" font-size="10.00" text-anchor="end" fill="#000" color="#000" >d = 65 nm</text>
<line x1="264.60" y1="102.50" x2="286.90" y2="102.50" stroke="#ff0000" stroke-width="1.50"/>
<text stroke="currentColor" stroke-width="0.25" x="290.00" y="106.20" font-size="10.00" text-anchor="start" fill="#222" color="#222" >unpolar.</text>
<line x1="264.60" y1="116.50" x2="286.90" y2="116.50" stroke="#ff00ff" stroke-width="1.50"/>
<text stroke="currentColor" stroke-width="0.25" x="290.00" y="120.20" font-size="10.00" text-anchor="start" fill="#222" color="#222" >E || [001]</text>
<line x1="264.60" y1="130.50" x2="286.90" y2="130.50" stroke="#00e8f0" stroke-width="1.50"/>
<text stroke="currentColor" stroke-width="0.25" x="290.00" y="134.20" font-size="10.00" text-anchor="start" fill="#222" color="#222" >E</text>
<text stroke="currentColor" stroke-width="0.25" x="309.20" y="134.20" font-size="10.00" text-anchor="start" fill="#222" color="#222" >[001]</text>
<line x1="302.75" y1="127.30" x2="302.75" y2="133.80" stroke="#666" stroke-width="0.90"/>
<line x1="299.60" y1="133.60" x2="305.90" y2="133.60" stroke="#666" stroke-width="0.90"/>
<rect x="360.2" y="126.2" width="101.2" height="140.8" fill="#fff" stroke="#999" stroke-width="1.3"/>
<line x1="360.20" y1="149.66" x2="362.70" y2="149.66" stroke="#999" stroke-width="1.20"/>
<line x1="458.90" y1="149.66" x2="461.40" y2="149.66" stroke="#999" stroke-width="1.20"/>
<line x1="360.20" y1="173.12" x2="364.20" y2="173.12" stroke="#999" stroke-width="1.20"/>
<line x1="457.40" y1="173.12" x2="461.40" y2="173.12" stroke="#999" stroke-width="1.20"/>
<line x1="360.20" y1="196.58" x2="362.70" y2="196.58" stroke="#999" stroke-width="1.20"/>
<line x1="458.90" y1="196.58" x2="461.40" y2="196.58" stroke="#999" stroke-width="1.20"/>
<line x1="360.20" y1="220.04" x2="364.20" y2="220.04" stroke="#999" stroke-width="1.20"/>
<line x1="457.40" y1="220.04" x2="461.40" y2="220.04" stroke="#999" stroke-width="1.20"/>
<line x1="360.20" y1="243.50" x2="362.70" y2="243.50" stroke="#999" stroke-width="1.20"/>
<line x1="458.90" y1="243.50" x2="461.40" y2="243.50" stroke="#999" stroke-width="1.20"/>
<line x1="394.40" y1="267.00" x2="394.40" y2="263.00" stroke="#999" stroke-width="1.20"/>
<line x1="394.40" y1="126.20" x2="394.40" y2="130.20" stroke="#999" stroke-width="1.20"/>
<line x1="428.30" y1="267.00" x2="428.30" y2="263.00" stroke="#999" stroke-width="1.20"/>
<line x1="428.30" y1="126.20" x2="428.30" y2="130.20" stroke="#999" stroke-width="1.20"/>
<path d="M360.70,224.40 L361.48,224.12 L362.59,223.40 L363.88,223.47 L365.20,222.92 L366.40,222.28 L367.71,221.43 L368.96,221.39 L370.23,220.75 L371.60,219.71 L372.57,219.16 L373.58,218.31 L374.62,217.47 L375.69,217.20 L376.78,216.76 L377.90,215.57 L378.89,215.75 L379.90,214.70 L380.94,214.21 L382.00,213.48 L383.06,213.79 L384.13,212.74 L385.20,211.88 L385.88,210.85 L386.56,209.41 L387.25,208.77 L387.93,207.94 L388.62,206.51 L389.32,206.25 L390.01,204.56 L390.70,203.23 L391.40,202.77 L392.10,200.99 L392.80,200.73 L393.51,199.15 L394.23,198.04 L394.95,196.57 L395.68,195.41 L396.42,193.82 L397.14,192.43 L397.87,192.09 L398.58,190.41 L399.27,190.06 L399.95,188.79 L400.60,189.07 L401.74,188.83 L402.81,189.29 L403.85,190.33 L404.86,191.28 L405.87,192.35 L406.90,192.12 L407.95,192.33 L409.00,192.28 L410.05,191.03 L411.09,190.96 L412.11,190.00 L413.10,188.51 L413.83,187.58 L414.56,186.62 L415.28,185.40 L415.99,184.79 L416.69,182.97 L417.35,181.46 L417.99,180.48 L418.60,180.22 L419.67,179.06 L420.60,177.41 L421.51,176.57 L422.50,176.15 L423.66,176.35 L424.90,176.23 L426.12,177.23 L427.20,177.76 L428.23,178.74 L429.09,179.29 L430.30,179.67 L431.33,179.70 L432.51,179.95 L433.81,178.81 L435.19,178.20 L436.60,176.71 L437.26,175.80 L437.96,174.93 L438.68,174.74 L439.41,173.69 L440.16,172.34 L440.91,171.23 L441.66,170.12 L442.40,169.01 L443.13,167.94 L443.83,166.93 L444.50,166.00 L445.39,164.82 L446.25,163.69 L447.09,162.61 L447.91,161.57 L448.71,160.55 L449.49,159.53 L450.25,158.52 L451.00,157.50 L451.83,156.35 L452.63,155.25 L453.40,154.17 L454.15,153.08 L454.88,151.95 L455.60,150.77 L456.30,149.50 L456.86,148.39 L457.44,147.13 L458.03,145.80 L458.60,144.43 L459.15,143.08 L459.66,141.81 L460.12,140.68 L460.50,139.72 L460.80,139.00" fill="none" stroke="#3333dd" stroke-width="1.70" stroke-linejoin="round" stroke-linecap="round" />
<path d="M360.70,216.60 L361.74,216.64 L363.22,217.16 L364.88,216.35 L366.40,216.12 L367.71,216.85 L368.96,215.68 L370.23,215.16 L371.60,215.15 L372.77,214.32 L373.99,214.26 L375.26,212.95 L376.56,213.01 L377.90,211.72 L379.10,211.51 L380.38,211.40 L381.69,210.71 L382.97,210.46 L384.16,209.66 L385.20,208.30 L386.08,208.30 L386.83,207.07 L387.49,205.77 L388.10,204.55 L388.69,204.06 L389.30,202.58 L389.82,201.89 L390.31,200.67 L390.78,199.76 L391.25,198.21 L391.73,197.09 L392.24,195.63 L392.80,193.76 L393.15,193.46 L393.53,191.71 L393.93,190.99 L394.34,189.91 L394.75,188.32 L395.17,186.50 L395.59,185.89 L396.01,184.46 L396.41,182.77 L396.80,181.50 L397.16,180.94 L397.50,179.53 L398.22,178.53 L398.85,176.50 L399.43,175.22 L400.00,174.18 L400.60,173.91 L401.65,174.29 L402.70,174.85 L403.75,176.77 L404.14,177.90 L404.54,178.76 L404.93,180.36 L405.33,181.67 L405.72,182.92 L406.12,184.43 L406.51,185.40 L406.90,185.84 L407.82,188.08 L408.74,187.99 L410.00,188.53 L411.05,188.93 L412.27,189.92 L413.60,190.34 L414.95,190.16 L416.25,190.10 L417.52,189.58 L418.82,189.96 L420.11,188.67 L421.35,188.44 L422.50,187.65 L423.82,186.94 L425.05,186.25 L426.17,185.30 L427.20,184.24 L428.12,183.56 L428.94,182.45 L429.67,181.03 L430.30,179.70 L431.90,180.19 L432.59,179.00 L433.40,178.63 L434.34,178.13 L435.41,177.09 L436.60,175.26 L437.27,174.84 L438.00,173.57 L438.78,172.59 L439.60,171.59 L440.44,170.39 L441.29,169.27 L442.13,168.16 L442.96,167.07 L443.75,166.05 L444.50,165.10 L445.39,164.01 L446.25,162.98 L447.09,162.00 L447.91,161.05 L448.71,160.12 L449.49,159.19 L450.25,158.26 L451.00,157.30 L451.83,156.21 L452.63,155.15 L453.40,154.10 L454.15,153.03 L454.88,151.93 L455.60,150.76 L456.30,149.50 L456.86,148.39 L457.44,147.15 L458.03,145.81 L458.60,144.44 L459.15,143.09 L459.66,141.82 L460.12,140.68 L460.50,139.72 L460.80,139.00" fill="none" stroke="#00e8f0" stroke-width="1.70" stroke-linejoin="round" stroke-linecap="round" />
<path d="M360.70,218.10 L362.25,218.02 L363.30,220.15 L364.59,219.52 L366.40,217.68 L367.53,217.84 L368.80,217.34 L370.17,217.08 L371.60,216.23 L372.77,215.85 L373.99,215.61 L375.26,214.86 L376.56,214.53 L377.90,213.52 L379.08,213.08 L380.34,213.17 L381.62,212.32 L382.89,211.86 L384.09,211.54 L385.20,210.66 L386.68,209.67 L388.01,209.75 L389.23,208.93 L390.40,208.36 L391.83,207.43 L393.12,206.89 L394.40,205.46 L395.65,205.22 L396.89,204.25 L398.30,203.67 L399.28,203.20 L400.33,202.26 L401.44,201.35 L402.58,200.88 L403.75,200.02 L404.49,199.06 L405.26,198.01 L406.04,197.22 L406.82,195.69 L407.62,194.54 L408.42,193.47 L409.21,192.67 L410.00,190.70 L410.52,189.65 L411.05,188.59 L411.58,187.43 L412.11,186.52 L412.64,185.64 L413.18,184.70 L413.70,183.00 L414.23,181.84 L414.74,180.58 L415.25,179.45 L415.76,178.82 L416.25,177.55 L416.83,176.02 L417.42,174.59 L417.99,173.98 L418.56,172.64 L419.12,171.53 L419.67,169.79 L420.20,169.05 L420.72,168.49 L421.22,167.39 L421.70,167.15 L423.09,165.63 L424.31,166.98 L425.60,167.06 L426.49,168.19 L427.42,168.86 L428.38,170.80 L429.31,171.73 L430.20,172.77 L431.55,173.23 L432.83,173.54 L434.10,172.94 L435.30,172.90 L436.51,171.82 L438.00,170.15 L438.79,170.06 L439.67,168.64 L440.60,167.86 L441.58,166.88 L442.57,165.87 L443.55,164.83 L444.50,163.80 L445.32,162.90 L446.15,161.97 L446.99,161.03 L447.82,160.07 L448.65,159.08 L449.46,158.08 L450.24,157.05 L451.00,156.00 L451.73,154.92 L452.43,153.80 L453.11,152.65 L453.78,151.48 L454.42,150.30 L455.06,149.13 L455.68,147.95 L456.30,146.80 L456.93,145.60 L457.59,144.30 L458.24,142.98 L458.88,141.67 L459.48,140.44 L460.01,139.33 L460.46,138.40 L460.80,137.70" fill="none" stroke="#ff00ff" stroke-width="1.70" stroke-linejoin="round" stroke-linecap="round" />
<rect x="366" y="136" width="84" height="18" fill="#fff" fill-opacity="0"/>
<text stroke="currentColor" stroke-width="0.25" x="368.30" y="150.10" font-size="14.50" text-anchor="start" fill="#000" color="#000" >d = 26.5 nm</text>
<text stroke="currentColor" stroke-width="0.25" x="358.40" y="127.60" font-size="10.80" text-anchor="end" fill="#000" color="#000" >0.5</text>
<text stroke="currentColor" stroke-width="0.25" x="358.40" y="174.30" font-size="10.80" text-anchor="end" fill="#000" color="#000" >0.4</text>
<text stroke="currentColor" stroke-width="0.25" x="358.40" y="221.00" font-size="10.80" text-anchor="end" fill="#000" color="#000" >0.3</text>
<text stroke="currentColor" stroke-width="0.25" x="358.40" y="268.00" font-size="10.80" text-anchor="end" fill="#000" color="#000" >0.2</text>
<text stroke="currentColor" stroke-width="0.25" x="338.20" y="200.80" font-size="12.00" text-anchor="start" fill="#000" color="#000" >R</text>
<text stroke="currentColor" stroke-width="0.25" x="360.20" y="280.60" font-size="11.80" text-anchor="middle" fill="#000" color="#000" >200</text>
<text stroke="currentColor" stroke-width="0.25" x="427.30" y="280.60" font-size="11.80" text-anchor="middle" fill="#000" color="#000" >300</text>
<text stroke="currentColor" stroke-width="0.25" x="378.5" y="292.6" font-size="13" fill="#000">&#969; (cm<tspan font-size="8" dy="-5.2">-1</tspan><tspan dy="5.2">)</tspan></text>
<line x1="377.50" y1="219.50" x2="405.20" y2="219.50" stroke="#3333dd" stroke-width="2.00"/>
<text stroke="currentColor" stroke-width="0.25" x="408.70" y="224.00" font-size="12.50" text-anchor="start" fill="#222" color="#222" >unpolar.</text>
<line x1="377.50" y1="235.55" x2="405.20" y2="235.55" stroke="#00e8f0" stroke-width="2.00"/>
<text stroke="currentColor" stroke-width="0.25" x="408.70" y="240.55" font-size="12.50" text-anchor="start" fill="#222" color="#222" >E</text>
<line x1="377.50" y1="251.60" x2="405.20" y2="251.60" stroke="#ff00ff" stroke-width="2.00"/>
<text stroke="currentColor" stroke-width="0.25" x="408.70" y="256.10" font-size="12.50" text-anchor="start" fill="#222" color="#222" >E || [001]</text>
<text stroke="currentColor" stroke-width="0.25" x="431.40" y="241.10" font-size="12.50" text-anchor="start" fill="#222" color="#222" >[001]</text>
<line x1="423.85" y1="232.90" x2="423.85" y2="240.20" stroke="#777" stroke-width="1.00"/>
<line x1="419.60" y1="240.00" x2="428.10" y2="240.00" stroke="#777" stroke-width="1.00"/></svg>
</body></html>
